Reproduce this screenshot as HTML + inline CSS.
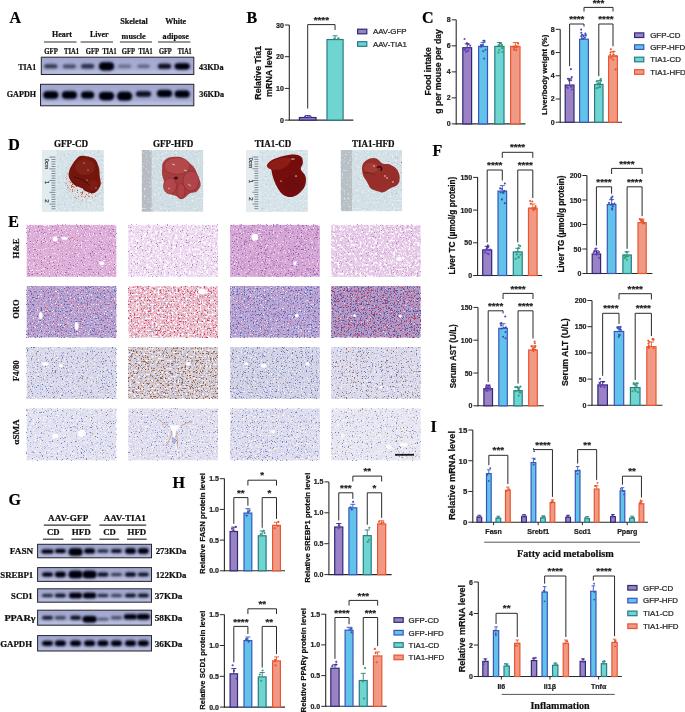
<!DOCTYPE html>
<html><head><meta charset="utf-8"><style>
html,body{margin:0;padding:0;background:#fff;overflow:hidden;}
svg{display:block;will-change:transform;}
</style></head><body>
<svg width="685" height="712" viewBox="0 0 685 712">
<defs><filter id="bb" x="-50%" y="-100%" width="200%" height="300%"><feGaussianBlur stdDeviation="0.85"/></filter>
<filter id="bb2" x="-50%" y="-100%" width="200%" height="300%"><feGaussianBlur stdDeviation="1.5"/></filter>
<filter id="lb" x="-20%" y="-20%" width="140%" height="140%"><feGaussianBlur stdDeviation="0.5"/></filter>
<filter id="sp0" x="0" y="0" width="1" height="1" color-interpolation-filters="sRGB"><feTurbulence type="fractalNoise" baseFrequency="0.5" numOctaves="2" seed="11"/><feColorMatrix type="matrix" values="0 0 0 0 0.941 0 0 0 0 0.965 0 0 0 0 0.973 3 0 0 0 -1.6"/></filter>
<filter id="sp1" x="0" y="0" width="1" height="1" color-interpolation-filters="sRGB"><feTurbulence type="fractalNoise" baseFrequency="0.5" numOctaves="2" seed="12"/><feColorMatrix type="matrix" values="0 0 0 0 0.722 0 0 0 0 0.784 0 0 0 0 0.816 3 0 0 0 -1.75"/></filter>
<radialGradient id="bm1g" cx="84" cy="182" r="22" gradientUnits="userSpaceOnUse"><stop offset="0.55" stop-color="#fff"/><stop offset="1" stop-color="#000"/></radialGradient><mask id="bm1"><rect x="40" y="150" width="66" height="62" fill="url(#bm1g)"/></mask>
<filter id="sp2" x="0" y="0" width="1" height="1" color-interpolation-filters="sRGB"><feTurbulence type="fractalNoise" baseFrequency="1.2" numOctaves="1" seed="21"/><feColorMatrix type="matrix" values="0 0 0 0 0.831 0 0 0 0 0.275 0 0 0 0 0.173 9 0 0 0 -5.0"/></filter>
<filter id="sp3" x="0" y="0" width="1" height="1" color-interpolation-filters="sRGB"><feTurbulence type="fractalNoise" baseFrequency="0.5" numOctaves="2" seed="31"/><feColorMatrix type="matrix" values="0 0 0 0 0.910 0 0 0 0 0.933 0 0 0 0 0.941 5 0 0 0 -3"/></filter>
<filter id="sp4" x="0" y="0" width="1" height="1" color-interpolation-filters="sRGB"><feTurbulence type="fractalNoise" baseFrequency="1.2" numOctaves="1" seed="22"/><feColorMatrix type="matrix" values="0 0 0 0 0.816 0 0 0 0 0.251 0 0 0 0 0.251 9 0 0 0 -6.4"/></filter>
<filter id="sp5" x="0" y="0" width="1" height="1" color-interpolation-filters="sRGB"><feTurbulence type="fractalNoise" baseFrequency="0.5" numOctaves="2" seed="41"/><feColorMatrix type="matrix" values="0 0 0 0 0.878 0 0 0 0 0.910 0 0 0 0 0.925 5 0 0 0 -3"/></filter>
<filter id="sp6" x="0" y="0" width="1" height="1" color-interpolation-filters="sRGB"><feTurbulence type="fractalNoise" baseFrequency="1.2" numOctaves="1" seed="23"/><feColorMatrix type="matrix" values="0 0 0 0 0.816 0 0 0 0 0.251 0 0 0 0 0.251 9 0 0 0 -6.2"/></filter>
<filter id="hf0" x="0" y="0" width="1" height="1" color-interpolation-filters="sRGB"><feTurbulence type="fractalNoise" baseFrequency="0.75" numOctaves="2" seed="1"/><feColorMatrix type="matrix" values="0 0 0 0 0.635 0 0 0 0 0.353 0 0 0 0 0.659 7 0 0 0 -4.35"/><feGaussianBlur stdDeviation="0.3"/></filter>
<filter id="hf1" x="0" y="0" width="1" height="1" color-interpolation-filters="sRGB"><feTurbulence type="fractalNoise" baseFrequency="0.75" numOctaves="2" seed="2"/><feColorMatrix type="matrix" values="0 0 0 0 0.973 0 0 0 0 0.925 0 0 0 0 0.965 7 0 0 0 -4.2"/><feGaussianBlur stdDeviation="0.3"/></filter>
<filter id="hf2" x="0" y="0" width="1" height="1" color-interpolation-filters="sRGB"><feTurbulence type="fractalNoise" baseFrequency="0.45" numOctaves="2" seed="3"/><feColorMatrix type="matrix" values="0 0 0 0 0.996 0 0 0 0 0.980 0 0 0 0 0.996 6 0 0 0 -2.9"/><feGaussianBlur stdDeviation="0.3"/></filter>
<filter id="hf3" x="0" y="0" width="1" height="1" color-interpolation-filters="sRGB"><feTurbulence type="fractalNoise" baseFrequency="0.8" numOctaves="2" seed="4"/><feColorMatrix type="matrix" values="0 0 0 0 0.706 0 0 0 0 0.486 0 0 0 0 0.769 7 0 0 0 -4.4"/><feGaussianBlur stdDeviation="0.3"/></filter>
<filter id="hf4" x="0" y="0" width="1" height="1" color-interpolation-filters="sRGB"><feTurbulence type="fractalNoise" baseFrequency="0.75" numOctaves="2" seed="5"/><feColorMatrix type="matrix" values="0 0 0 0 0.612 0 0 0 0 0.337 0 0 0 0 0.651 7 0 0 0 -4.25"/><feGaussianBlur stdDeviation="0.3"/></filter>
<filter id="hf5" x="0" y="0" width="1" height="1" color-interpolation-filters="sRGB"><feTurbulence type="fractalNoise" baseFrequency="0.75" numOctaves="2" seed="6"/><feColorMatrix type="matrix" values="0 0 0 0 0.965 0 0 0 0 0.910 0 0 0 0 0.957 7 0 0 0 -4.3"/><feGaussianBlur stdDeviation="0.3"/></filter>
<filter id="hf6" x="0" y="0" width="1" height="1" color-interpolation-filters="sRGB"><feTurbulence type="fractalNoise" baseFrequency="0.25" numOctaves="2" seed="7"/><feColorMatrix type="matrix" values="0 0 0 0 0.706 0 0 0 0 0.486 0 0 0 0 0.769 4 0 0 0 -2.4"/><feGaussianBlur stdDeviation="0.3"/></filter>
<filter id="hf7" x="0" y="0" width="1" height="1" color-interpolation-filters="sRGB"><feTurbulence type="fractalNoise" baseFrequency="0.45" numOctaves="2" seed="8"/><feColorMatrix type="matrix" values="0 0 0 0 0.996 0 0 0 0 0.980 0 0 0 0 0.996 6 0 0 0 -3.0"/><feGaussianBlur stdDeviation="0.3"/></filter>
<filter id="hf8" x="0" y="0" width="1" height="1" color-interpolation-filters="sRGB"><feTurbulence type="fractalNoise" baseFrequency="0.8" numOctaves="2" seed="9"/><feColorMatrix type="matrix" values="0 0 0 0 0.737 0 0 0 0 0.518 0 0 0 0 0.784 7 0 0 0 -4.4"/><feGaussianBlur stdDeviation="0.3"/></filter>
<filter id="hf9" x="0" y="0" width="1" height="1" color-interpolation-filters="sRGB"><feTurbulence type="fractalNoise" baseFrequency="0.7" numOctaves="2" seed="10"/><feColorMatrix type="matrix" values="0 0 0 0 0.314 0 0 0 0 0.408 0 0 0 0 0.737 7 0 0 0 -4.05"/><feGaussianBlur stdDeviation="0.3"/></filter>
<filter id="hf10" x="0" y="0" width="1" height="1" color-interpolation-filters="sRGB"><feTurbulence type="fractalNoise" baseFrequency="0.7" numOctaves="2" seed="11"/><feColorMatrix type="matrix" values="0 0 0 0 0.816 0 0 0 0 0.424 0 0 0 0 0.565 7 0 0 0 -4.2"/><feGaussianBlur stdDeviation="0.3"/></filter>
<filter id="hf11" x="0" y="0" width="1" height="1" color-interpolation-filters="sRGB"><feTurbulence type="fractalNoise" baseFrequency="0.7" numOctaves="2" seed="12"/><feColorMatrix type="matrix" values="0 0 0 0 0.957 0 0 0 0 0.941 0 0 0 0 0.973 7 0 0 0 -4.4"/><feGaussianBlur stdDeviation="0.3"/></filter>
<filter id="hf12" x="0" y="0" width="1" height="1" color-interpolation-filters="sRGB"><feTurbulence type="fractalNoise" baseFrequency="0.7" numOctaves="2" seed="13"/><feColorMatrix type="matrix" values="0 0 0 0 0.863 0 0 0 0 0.204 0 0 0 0 0.267 7 0 0 0 -4.0"/><feGaussianBlur stdDeviation="0.3"/></filter>
<filter id="hf13" x="0" y="0" width="1" height="1" color-interpolation-filters="sRGB"><feTurbulence type="fractalNoise" baseFrequency="0.7" numOctaves="2" seed="14"/><feColorMatrix type="matrix" values="0 0 0 0 0.486 0 0 0 0 0.565 0 0 0 0 0.816 7 0 0 0 -4.4"/><feGaussianBlur stdDeviation="0.3"/></filter>
<filter id="hf14" x="0" y="0" width="1" height="1" color-interpolation-filters="sRGB"><feTurbulence type="fractalNoise" baseFrequency="0.5" numOctaves="2" seed="15"/><feColorMatrix type="matrix" values="0 0 0 0 0.992 0 0 0 0 0.973 0 0 0 0 0.973 6 0 0 0 -2.9"/><feGaussianBlur stdDeviation="0.3"/></filter>
<filter id="hf15" x="0" y="0" width="1" height="1" color-interpolation-filters="sRGB"><feTurbulence type="fractalNoise" baseFrequency="0.7" numOctaves="2" seed="16"/><feColorMatrix type="matrix" values="0 0 0 0 0.298 0 0 0 0 0.392 0 0 0 0 0.729 7 0 0 0 -4.0"/><feGaussianBlur stdDeviation="0.3"/></filter>
<filter id="hf16" x="0" y="0" width="1" height="1" color-interpolation-filters="sRGB"><feTurbulence type="fractalNoise" baseFrequency="0.7" numOctaves="2" seed="17"/><feColorMatrix type="matrix" values="0 0 0 0 0.816 0 0 0 0 0.424 0 0 0 0 0.565 7 0 0 0 -4.3"/><feGaussianBlur stdDeviation="0.3"/></filter>
<filter id="hf17" x="0" y="0" width="1" height="1" color-interpolation-filters="sRGB"><feTurbulence type="fractalNoise" baseFrequency="0.7" numOctaves="2" seed="18"/><feColorMatrix type="matrix" values="0 0 0 0 0.957 0 0 0 0 0.941 0 0 0 0 0.973 7 0 0 0 -4.45"/><feGaussianBlur stdDeviation="0.3"/></filter>
<filter id="hf18" x="0" y="0" width="1" height="1" color-interpolation-filters="sRGB"><feTurbulence type="fractalNoise" baseFrequency="0.7" numOctaves="2" seed="19"/><feColorMatrix type="matrix" values="0 0 0 0 0.831 0 0 0 0 0.173 0 0 0 0 0.235 7 0 0 0 -4.0"/><feGaussianBlur stdDeviation="0.3"/></filter>
<filter id="hf19" x="0" y="0" width="1" height="1" color-interpolation-filters="sRGB"><feTurbulence type="fractalNoise" baseFrequency="0.7" numOctaves="2" seed="20"/><feColorMatrix type="matrix" values="0 0 0 0 0.282 0 0 0 0 0.345 0 0 0 0 0.706 7 0 0 0 -3.9"/><feGaussianBlur stdDeviation="0.3"/></filter>
<filter id="hf20" x="0" y="0" width="1" height="1" color-interpolation-filters="sRGB"><feTurbulence type="fractalNoise" baseFrequency="0.7" numOctaves="2" seed="21"/><feColorMatrix type="matrix" values="0 0 0 0 0.957 0 0 0 0 0.933 0 0 0 0 0.957 7 0 0 0 -4.7"/><feGaussianBlur stdDeviation="0.3"/></filter>
<filter id="hf21" x="0" y="0" width="1" height="1" color-interpolation-filters="sRGB"><feTurbulence type="fractalNoise" baseFrequency="0.8" numOctaves="2" seed="22"/><feColorMatrix type="matrix" values="0 0 0 0 0.392 0 0 0 0 0.471 0 0 0 0 0.753 7 0 0 0 -4.3"/><feGaussianBlur stdDeviation="0.3"/></filter>
<filter id="hf22" x="0" y="0" width="1" height="1" color-interpolation-filters="sRGB"><feTurbulence type="fractalNoise" baseFrequency="0.8" numOctaves="2" seed="23"/><feColorMatrix type="matrix" values="0 0 0 0 0.627 0 0 0 0 0.392 0 0 0 0 0.188 7 0 0 0 -4.85"/><feGaussianBlur stdDeviation="0.3"/></filter>
<filter id="hf23" x="0" y="0" width="1" height="1" color-interpolation-filters="sRGB"><feTurbulence type="fractalNoise" baseFrequency="0.7" numOctaves="2" seed="24"/><feColorMatrix type="matrix" values="0 0 0 0 0.957 0 0 0 0 0.957 0 0 0 0 0.980 6 0 0 0 -3.5"/><feGaussianBlur stdDeviation="0.3"/></filter>
<filter id="hf24" x="0" y="0" width="1" height="1" color-interpolation-filters="sRGB"><feTurbulence type="fractalNoise" baseFrequency="0.8" numOctaves="2" seed="25"/><feColorMatrix type="matrix" values="0 0 0 0 0.392 0 0 0 0 0.471 0 0 0 0 0.753 7 0 0 0 -4.4"/><feGaussianBlur stdDeviation="0.3"/></filter>
<filter id="hf25" x="0" y="0" width="1" height="1" color-interpolation-filters="sRGB"><feTurbulence type="fractalNoise" baseFrequency="0.6" numOctaves="2" seed="26"/><feColorMatrix type="matrix" values="0 0 0 0 0.604 0 0 0 0 0.353 0 0 0 0 0.149 7 0 0 0 -4.0"/><feGaussianBlur stdDeviation="0.3"/></filter>
<filter id="hf26" x="0" y="0" width="1" height="1" color-interpolation-filters="sRGB"><feTurbulence type="fractalNoise" baseFrequency="0.5" numOctaves="2" seed="27"/><feColorMatrix type="matrix" values="0 0 0 0 0.973 0 0 0 0 0.965 0 0 0 0 0.973 6 0 0 0 -3.3"/><feGaussianBlur stdDeviation="0.3"/></filter>
<filter id="hf27" x="0" y="0" width="1" height="1" color-interpolation-filters="sRGB"><feTurbulence type="fractalNoise" baseFrequency="0.8" numOctaves="2" seed="28"/><feColorMatrix type="matrix" values="0 0 0 0 0.392 0 0 0 0 0.471 0 0 0 0 0.753 7 0 0 0 -4.2"/><feGaussianBlur stdDeviation="0.3"/></filter>
<filter id="hf28" x="0" y="0" width="1" height="1" color-interpolation-filters="sRGB"><feTurbulence type="fractalNoise" baseFrequency="0.8" numOctaves="2" seed="29"/><feColorMatrix type="matrix" values="0 0 0 0 0.627 0 0 0 0 0.392 0 0 0 0 0.188 7 0 0 0 -4.85"/><feGaussianBlur stdDeviation="0.3"/></filter>
<filter id="hf29" x="0" y="0" width="1" height="1" color-interpolation-filters="sRGB"><feTurbulence type="fractalNoise" baseFrequency="0.7" numOctaves="2" seed="30"/><feColorMatrix type="matrix" values="0 0 0 0 0.957 0 0 0 0 0.957 0 0 0 0 0.980 6 0 0 0 -3.5"/><feGaussianBlur stdDeviation="0.3"/></filter>
<filter id="hf30" x="0" y="0" width="1" height="1" color-interpolation-filters="sRGB"><feTurbulence type="fractalNoise" baseFrequency="0.8" numOctaves="2" seed="31"/><feColorMatrix type="matrix" values="0 0 0 0 0.392 0 0 0 0 0.471 0 0 0 0 0.753 7 0 0 0 -4.3"/><feGaussianBlur stdDeviation="0.3"/></filter>
<filter id="hf31" x="0" y="0" width="1" height="1" color-interpolation-filters="sRGB"><feTurbulence type="fractalNoise" baseFrequency="0.8" numOctaves="2" seed="32"/><feColorMatrix type="matrix" values="0 0 0 0 0.627 0 0 0 0 0.392 0 0 0 0 0.188 7 0 0 0 -4.5"/><feGaussianBlur stdDeviation="0.3"/></filter>
<filter id="hf32" x="0" y="0" width="1" height="1" color-interpolation-filters="sRGB"><feTurbulence type="fractalNoise" baseFrequency="0.7" numOctaves="2" seed="33"/><feColorMatrix type="matrix" values="0 0 0 0 0.957 0 0 0 0 0.957 0 0 0 0 0.980 6 0 0 0 -3.5"/><feGaussianBlur stdDeviation="0.3"/></filter>
<filter id="hf33" x="0" y="0" width="1" height="1" color-interpolation-filters="sRGB"><feTurbulence type="fractalNoise" baseFrequency="0.8" numOctaves="2" seed="34"/><feColorMatrix type="matrix" values="0 0 0 0 0.439 0 0 0 0 0.518 0 0 0 0 0.769 7 0 0 0 -4.4"/><feGaussianBlur stdDeviation="0.3"/></filter>
<filter id="hf34" x="0" y="0" width="1" height="1" color-interpolation-filters="sRGB"><feTurbulence type="fractalNoise" baseFrequency="0.8" numOctaves="2" seed="35"/><feColorMatrix type="matrix" values="0 0 0 0 0.659 0 0 0 0 0.439 0 0 0 0 0.251 7 0 0 0 -4.9"/><feGaussianBlur stdDeviation="0.3"/></filter>
<filter id="hf35" x="0" y="0" width="1" height="1" color-interpolation-filters="sRGB"><feTurbulence type="fractalNoise" baseFrequency="0.6" numOctaves="2" seed="36"/><feColorMatrix type="matrix" values="0 0 0 0 0.973 0 0 0 0 0.973 0 0 0 0 0.988 6 0 0 0 -3.4"/><feGaussianBlur stdDeviation="0.3"/></filter>
<filter id="hf36" x="0" y="0" width="1" height="1" color-interpolation-filters="sRGB"><feTurbulence type="fractalNoise" baseFrequency="0.8" numOctaves="2" seed="37"/><feColorMatrix type="matrix" values="0 0 0 0 0.439 0 0 0 0 0.518 0 0 0 0 0.769 7 0 0 0 -4.4"/><feGaussianBlur stdDeviation="0.3"/></filter>
<filter id="hf37" x="0" y="0" width="1" height="1" color-interpolation-filters="sRGB"><feTurbulence type="fractalNoise" baseFrequency="0.8" numOctaves="2" seed="38"/><feColorMatrix type="matrix" values="0 0 0 0 0.659 0 0 0 0 0.439 0 0 0 0 0.251 7 0 0 0 -5.1"/><feGaussianBlur stdDeviation="0.3"/></filter>
<filter id="hf38" x="0" y="0" width="1" height="1" color-interpolation-filters="sRGB"><feTurbulence type="fractalNoise" baseFrequency="0.6" numOctaves="2" seed="39"/><feColorMatrix type="matrix" values="0 0 0 0 0.973 0 0 0 0 0.973 0 0 0 0 0.988 6 0 0 0 -3.4"/><feGaussianBlur stdDeviation="0.3"/></filter>
<filter id="hf39" x="0" y="0" width="1" height="1" color-interpolation-filters="sRGB"><feTurbulence type="fractalNoise" baseFrequency="0.8" numOctaves="2" seed="40"/><feColorMatrix type="matrix" values="0 0 0 0 0.439 0 0 0 0 0.518 0 0 0 0 0.769 7 0 0 0 -4.3"/><feGaussianBlur stdDeviation="0.3"/></filter>
<filter id="hf40" x="0" y="0" width="1" height="1" color-interpolation-filters="sRGB"><feTurbulence type="fractalNoise" baseFrequency="0.8" numOctaves="2" seed="41"/><feColorMatrix type="matrix" values="0 0 0 0 0.659 0 0 0 0 0.439 0 0 0 0 0.251 7 0 0 0 -4.9"/><feGaussianBlur stdDeviation="0.3"/></filter>
<filter id="hf41" x="0" y="0" width="1" height="1" color-interpolation-filters="sRGB"><feTurbulence type="fractalNoise" baseFrequency="0.6" numOctaves="2" seed="42"/><feColorMatrix type="matrix" values="0 0 0 0 0.973 0 0 0 0 0.973 0 0 0 0 0.988 6 0 0 0 -3.4"/><feGaussianBlur stdDeviation="0.3"/></filter>
<filter id="hf42" x="0" y="0" width="1" height="1" color-interpolation-filters="sRGB"><feTurbulence type="fractalNoise" baseFrequency="0.8" numOctaves="2" seed="43"/><feColorMatrix type="matrix" values="0 0 0 0 0.439 0 0 0 0 0.518 0 0 0 0 0.769 7 0 0 0 -4.5"/><feGaussianBlur stdDeviation="0.3"/></filter>
<filter id="hf43" x="0" y="0" width="1" height="1" color-interpolation-filters="sRGB"><feTurbulence type="fractalNoise" baseFrequency="0.8" numOctaves="2" seed="44"/><feColorMatrix type="matrix" values="0 0 0 0 0.659 0 0 0 0 0.439 0 0 0 0 0.251 7 0 0 0 -4.8"/><feGaussianBlur stdDeviation="0.3"/></filter>
<filter id="hf44" x="0" y="0" width="1" height="1" color-interpolation-filters="sRGB"><feTurbulence type="fractalNoise" baseFrequency="0.6" numOctaves="2" seed="45"/><feColorMatrix type="matrix" values="0 0 0 0 0.973 0 0 0 0 0.973 0 0 0 0 0.988 6 0 0 0 -3.4"/><feGaussianBlur stdDeviation="0.3"/></filter></defs>
<rect width="685" height="712" fill="#fff"/>
<text x="9.5" y="23" font-family='"Liberation Serif", serif' font-size="16" font-weight="bold" text-anchor="start" fill="#000" stroke="#000" stroke-width="0.22">A</text>
<text x="246.5" y="23" font-family='"Liberation Serif", serif' font-size="16" font-weight="bold" text-anchor="start" fill="#000" stroke="#000" stroke-width="0.22">B</text>
<text x="422" y="23" font-family='"Liberation Serif", serif' font-size="16" font-weight="bold" text-anchor="start" fill="#000" stroke="#000" stroke-width="0.22">C</text>
<text x="8.3" y="150" font-family='"Liberation Serif", serif' font-size="16" font-weight="bold" text-anchor="start" fill="#000" stroke="#000" stroke-width="0.22">D</text>
<text x="8.3" y="227" font-family='"Liberation Serif", serif' font-size="16" font-weight="bold" text-anchor="start" fill="#000" stroke="#000" stroke-width="0.22">E</text>
<text x="432.5" y="155.5" font-family='"Liberation Serif", serif' font-size="16" font-weight="bold" text-anchor="start" fill="#000" stroke="#000" stroke-width="0.22">F</text>
<text x="8.5" y="504.5" font-family='"Liberation Serif", serif' font-size="16" font-weight="bold" text-anchor="start" fill="#000" stroke="#000" stroke-width="0.22">G</text>
<text x="172.5" y="488" font-family='"Liberation Serif", serif' font-size="16" font-weight="bold" text-anchor="start" fill="#000" stroke="#000" stroke-width="0.22">H</text>
<text x="430.5" y="432" font-family='"Liberation Serif", serif' font-size="16" font-weight="bold" text-anchor="start" fill="#000" stroke="#000" stroke-width="0.22">I</text>
<line x1="289.3" y1="25" x2="289.3" y2="120.6" stroke="#2a2a2a" stroke-width="1.1"/>
<line x1="288.8" y1="120.1" x2="353.4" y2="120.1" stroke="#2a2a2a" stroke-width="1.1"/>
<line x1="284.8" y1="120.1" x2="289.3" y2="120.1" stroke="#2a2a2a" stroke-width="1"/>
<text x="283.8" y="122.6" font-family='"Liberation Sans", sans-serif' font-size="7.0" font-weight="bold" text-anchor="end" fill="#222" stroke="#222" stroke-width="0.22">0</text>
<line x1="284.8" y1="88.4" x2="289.3" y2="88.4" stroke="#2a2a2a" stroke-width="1"/>
<text x="283.8" y="90.9" font-family='"Liberation Sans", sans-serif' font-size="7.0" font-weight="bold" text-anchor="end" fill="#222" stroke="#222" stroke-width="0.22">10</text>
<line x1="284.8" y1="56.7" x2="289.3" y2="56.7" stroke="#2a2a2a" stroke-width="1"/>
<text x="283.8" y="59.2" font-family='"Liberation Sans", sans-serif' font-size="7.0" font-weight="bold" text-anchor="end" fill="#222" stroke="#222" stroke-width="0.22">20</text>
<line x1="284.8" y1="25" x2="289.3" y2="25" stroke="#2a2a2a" stroke-width="1"/>
<text x="283.8" y="27.5" font-family='"Liberation Sans", sans-serif' font-size="7.0" font-weight="bold" text-anchor="end" fill="#222" stroke="#222" stroke-width="0.22">30</text>
<rect x="299.4" y="117.53" width="16.6" height="2.57" fill="#9b82c6" stroke="#2d2a72" stroke-width="1.2"/>
<circle cx="310.52" cy="116.56" r="1.05" fill="#6a3fc0"/>
<circle cx="305.08" cy="116.52" r="1.05" fill="#6a3fc0"/>
<circle cx="309.32" cy="117.24" r="1.05" fill="#6a3fc0"/>
<line x1="307.7" y1="115.56" x2="307.7" y2="116.93" stroke="#2d2a72" stroke-width="0.9"/>
<line x1="305.2" y1="115.56" x2="310.2" y2="115.56" stroke="#2d2a72" stroke-width="0.9"/>
<rect x="327" y="39.55" width="16.1" height="80.55" fill="#6fd5d1" stroke="#2a7b86" stroke-width="1.2"/>
<circle cx="338.05" cy="38.84" r="1.05" fill="#35a070"/>
<circle cx="338.54" cy="38.27" r="1.05" fill="#35a070"/>
<circle cx="334.35" cy="38.49" r="1.05" fill="#35a070"/>
<line x1="335.05" y1="35.75" x2="335.05" y2="38.95" stroke="#2a7b86" stroke-width="0.9"/>
<line x1="332.55" y1="35.75" x2="337.55" y2="35.75" stroke="#2a7b86" stroke-width="0.9"/>
<polyline points="307.7,108.6 307.7,24.6 335.05,24.6 335.05,30" fill="none" stroke="#2a2a2a" stroke-width="1"/>
<text x="321.38" y="22.7" font-family='"Liberation Sans", sans-serif' font-size="9.8" font-weight="bold" text-anchor="middle" fill="#222" stroke="#222" stroke-width="0.22">****</text>
<text x="261" y="99.7" font-family='"Liberation Sans", sans-serif' font-size="9.3" font-weight="bold" text-anchor="start" fill="#111" stroke="#111" stroke-width="0.22" transform="rotate(-90 261 99.7)" textLength="53.8" lengthAdjust="spacingAndGlyphs">Relative Tia1</text>
<text x="271.9" y="96.9" font-family='"Liberation Sans", sans-serif' font-size="9.3" font-weight="bold" text-anchor="start" fill="#111" stroke="#111" stroke-width="0.22" transform="rotate(-90 271.9 96.9)" textLength="49" lengthAdjust="spacingAndGlyphs">mRNA level</text>
<rect x="357.6" y="29.2" width="9.2" height="4.6" fill="#9b82c6" stroke="#2d2a72" stroke-width="1.2"/>
<text x="372.9" y="34.3" font-family='"Liberation Sans", sans-serif' font-size="7.9" font-weight="normal" text-anchor="start" fill="#222" stroke="#222" stroke-width="0.22">AAV-GFP</text>
<rect x="357.6" y="41.7" width="9.2" height="4.6" fill="#6fd5d1" stroke="#2a7b86" stroke-width="1.2"/>
<text x="372.9" y="46.8" font-family='"Liberation Sans", sans-serif' font-size="7.9" font-weight="normal" text-anchor="start" fill="#222" stroke="#222" stroke-width="0.22">AAV-TIA1</text>
<line x1="456.2" y1="19.8" x2="456.2" y2="124.4" stroke="#2a2a2a" stroke-width="1.1"/>
<line x1="455.7" y1="123.9" x2="525.4" y2="123.9" stroke="#2a2a2a" stroke-width="1.1"/>
<line x1="451.7" y1="123.9" x2="456.2" y2="123.9" stroke="#2a2a2a" stroke-width="1"/>
<text x="450.7" y="126.4" font-family='"Liberation Sans", sans-serif' font-size="7.0" font-weight="bold" text-anchor="end" fill="#222" stroke="#222" stroke-width="0.22">0</text>
<line x1="451.7" y1="97.88" x2="456.2" y2="97.88" stroke="#2a2a2a" stroke-width="1"/>
<text x="450.7" y="100.38" font-family='"Liberation Sans", sans-serif' font-size="7.0" font-weight="bold" text-anchor="end" fill="#222" stroke="#222" stroke-width="0.22">2</text>
<line x1="451.7" y1="71.86" x2="456.2" y2="71.86" stroke="#2a2a2a" stroke-width="1"/>
<text x="450.7" y="74.36" font-family='"Liberation Sans", sans-serif' font-size="7.0" font-weight="bold" text-anchor="end" fill="#222" stroke="#222" stroke-width="0.22">4</text>
<line x1="451.7" y1="45.84" x2="456.2" y2="45.84" stroke="#2a2a2a" stroke-width="1"/>
<text x="450.7" y="48.34" font-family='"Liberation Sans", sans-serif' font-size="7.0" font-weight="bold" text-anchor="end" fill="#222" stroke="#222" stroke-width="0.22">6</text>
<line x1="451.7" y1="19.82" x2="456.2" y2="19.82" stroke="#2a2a2a" stroke-width="1"/>
<text x="450.7" y="22.32" font-family='"Liberation Sans", sans-serif' font-size="7.0" font-weight="bold" text-anchor="end" fill="#222" stroke="#222" stroke-width="0.22">8</text>
<rect x="462.8" y="47.74" width="8.8" height="76.16" fill="#9b82c6" stroke="#2d2a72" stroke-width="1.2"/>
<circle cx="464.54" cy="38.93" r="1.05" fill="#6a3fc0"/>
<circle cx="464.71" cy="49.47" r="1.05" fill="#6a3fc0"/>
<circle cx="468.22" cy="44.21" r="1.05" fill="#6a3fc0"/>
<circle cx="466.05" cy="52.07" r="1.05" fill="#6a3fc0"/>
<circle cx="467.69" cy="50.92" r="1.05" fill="#6a3fc0"/>
<circle cx="465.15" cy="50.11" r="1.05" fill="#6a3fc0"/>
<circle cx="468.54" cy="50.33" r="1.05" fill="#6a3fc0"/>
<circle cx="470.17" cy="45.66" r="1.05" fill="#6a3fc0"/>
<circle cx="466.87" cy="42.96" r="1.05" fill="#6a3fc0"/>
<circle cx="465.81" cy="48.52" r="1.05" fill="#6a3fc0"/>
<line x1="467.2" y1="43.89" x2="467.2" y2="47.14" stroke="#2d2a72" stroke-width="0.9"/>
<line x1="464.7" y1="43.89" x2="469.7" y2="43.89" stroke="#2d2a72" stroke-width="0.9"/>
<rect x="478.6" y="46.44" width="8.9" height="77.46" fill="#62c3ea" stroke="#3b55bb" stroke-width="1.2"/>
<circle cx="482.84" cy="45.03" r="1.05" fill="#3a4fb6"/>
<circle cx="481.95" cy="45.65" r="1.05" fill="#3a4fb6"/>
<circle cx="483.21" cy="51.24" r="1.05" fill="#3a4fb6"/>
<circle cx="483.42" cy="40.77" r="1.05" fill="#3a4fb6"/>
<circle cx="481.99" cy="45.77" r="1.05" fill="#3a4fb6"/>
<circle cx="480.85" cy="45.07" r="1.05" fill="#3a4fb6"/>
<circle cx="484.11" cy="58.61" r="1.05" fill="#3a4fb6"/>
<circle cx="481.12" cy="46.66" r="1.05" fill="#3a4fb6"/>
<circle cx="484.47" cy="40.92" r="1.05" fill="#3a4fb6"/>
<circle cx="485.51" cy="49.73" r="1.05" fill="#3a4fb6"/>
<line x1="483.05" y1="42.59" x2="483.05" y2="45.84" stroke="#3b55bb" stroke-width="0.9"/>
<line x1="480.55" y1="42.59" x2="485.55" y2="42.59" stroke="#3b55bb" stroke-width="0.9"/>
<rect x="494.8" y="46.44" width="9.2" height="77.46" fill="#6fd5d1" stroke="#2a7b86" stroke-width="1.2"/>
<circle cx="498.49" cy="45.34" r="1.05" fill="#35a070"/>
<circle cx="502.4" cy="52.02" r="1.05" fill="#35a070"/>
<circle cx="500.98" cy="43.82" r="1.05" fill="#35a070"/>
<circle cx="500.74" cy="46.33" r="1.05" fill="#35a070"/>
<circle cx="499.34" cy="50.03" r="1.05" fill="#35a070"/>
<circle cx="502.05" cy="44.8" r="1.05" fill="#35a070"/>
<circle cx="498.49" cy="52.47" r="1.05" fill="#35a070"/>
<circle cx="501.79" cy="45.88" r="1.05" fill="#35a070"/>
<circle cx="499.82" cy="42.68" r="1.05" fill="#35a070"/>
<circle cx="502.02" cy="48.14" r="1.05" fill="#35a070"/>
<line x1="499.4" y1="42.59" x2="499.4" y2="45.84" stroke="#2a7b86" stroke-width="0.9"/>
<line x1="496.9" y1="42.59" x2="501.9" y2="42.59" stroke="#2a7b86" stroke-width="0.9"/>
<rect x="510.6" y="46.44" width="9.4" height="77.46" fill="#f09a86" stroke="#ea5530" stroke-width="1.2"/>
<circle cx="513.53" cy="46.51" r="1.05" fill="#e8552e"/>
<circle cx="514.18" cy="49.84" r="1.05" fill="#e8552e"/>
<circle cx="517.89" cy="46.5" r="1.05" fill="#e8552e"/>
<circle cx="513.83" cy="47.85" r="1.05" fill="#e8552e"/>
<circle cx="518.21" cy="43.27" r="1.05" fill="#e8552e"/>
<circle cx="516.61" cy="47.44" r="1.05" fill="#e8552e"/>
<circle cx="516.26" cy="50.08" r="1.05" fill="#e8552e"/>
<circle cx="515.86" cy="45.95" r="1.05" fill="#e8552e"/>
<circle cx="515.38" cy="46.75" r="1.05" fill="#e8552e"/>
<circle cx="518.06" cy="43.62" r="1.05" fill="#e8552e"/>
<line x1="515.3" y1="42.59" x2="515.3" y2="45.84" stroke="#ea5530" stroke-width="0.9"/>
<line x1="512.8" y1="42.59" x2="517.8" y2="42.59" stroke="#ea5530" stroke-width="0.9"/>
<text x="430.9" y="95.6" font-family='"Liberation Sans", sans-serif' font-size="8.7" font-weight="bold" text-anchor="start" fill="#111" stroke="#111" stroke-width="0.22" transform="rotate(-90 430.9 95.6)" textLength="48.3" lengthAdjust="spacingAndGlyphs">Food intake</text>
<text x="441.3" y="113.8" font-family='"Liberation Sans", sans-serif' font-size="8.8" font-weight="bold" text-anchor="start" fill="#111" stroke="#111" stroke-width="0.22" transform="rotate(-90 441.3 113.8)" textLength="84.6" lengthAdjust="spacingAndGlyphs">g per mouse per day</text>
<line x1="560.2" y1="29.3" x2="560.2" y2="122.7" stroke="#2a2a2a" stroke-width="1.1"/>
<line x1="559.7" y1="122.2" x2="622" y2="122.2" stroke="#2a2a2a" stroke-width="1.1"/>
<line x1="555.7" y1="122.2" x2="560.2" y2="122.2" stroke="#2a2a2a" stroke-width="1"/>
<text x="554.7" y="124.7" font-family='"Liberation Sans", sans-serif' font-size="7.0" font-weight="bold" text-anchor="end" fill="#222" stroke="#222" stroke-width="0.22">0</text>
<line x1="555.7" y1="98.98" x2="560.2" y2="98.98" stroke="#2a2a2a" stroke-width="1"/>
<text x="554.7" y="101.48" font-family='"Liberation Sans", sans-serif' font-size="7.0" font-weight="bold" text-anchor="end" fill="#222" stroke="#222" stroke-width="0.22">2</text>
<line x1="555.7" y1="75.76" x2="560.2" y2="75.76" stroke="#2a2a2a" stroke-width="1"/>
<text x="554.7" y="78.26" font-family='"Liberation Sans", sans-serif' font-size="7.0" font-weight="bold" text-anchor="end" fill="#222" stroke="#222" stroke-width="0.22">4</text>
<line x1="555.7" y1="52.54" x2="560.2" y2="52.54" stroke="#2a2a2a" stroke-width="1"/>
<text x="554.7" y="55.04" font-family='"Liberation Sans", sans-serif' font-size="7.0" font-weight="bold" text-anchor="end" fill="#222" stroke="#222" stroke-width="0.22">6</text>
<line x1="555.7" y1="29.32" x2="560.2" y2="29.32" stroke="#2a2a2a" stroke-width="1"/>
<text x="554.7" y="31.82" font-family='"Liberation Sans", sans-serif' font-size="7.0" font-weight="bold" text-anchor="end" fill="#222" stroke="#222" stroke-width="0.22">8</text>
<rect x="565.2" y="85.07" width="8.8" height="37.13" fill="#9b82c6" stroke="#2d2a72" stroke-width="1.2"/>
<circle cx="571.52" cy="86.64" r="1.05" fill="#6a3fc0"/>
<circle cx="570.96" cy="86.59" r="1.05" fill="#6a3fc0"/>
<circle cx="571.07" cy="80.29" r="1.05" fill="#6a3fc0"/>
<circle cx="566.95" cy="87.21" r="1.05" fill="#6a3fc0"/>
<circle cx="567.96" cy="87.97" r="1.05" fill="#6a3fc0"/>
<circle cx="571.85" cy="89.48" r="1.05" fill="#6a3fc0"/>
<circle cx="571.72" cy="77.15" r="1.05" fill="#6a3fc0"/>
<circle cx="568.07" cy="78.7" r="1.05" fill="#6a3fc0"/>
<circle cx="569.14" cy="80.58" r="1.05" fill="#6a3fc0"/>
<circle cx="570.9" cy="69.15" r="1.05" fill="#6a3fc0"/>
<line x1="569.6" y1="78.8" x2="569.6" y2="84.47" stroke="#2d2a72" stroke-width="0.9"/>
<line x1="567.1" y1="78.8" x2="572.1" y2="78.8" stroke="#2d2a72" stroke-width="0.9"/>
<rect x="579.6" y="39.21" width="8.8" height="82.99" fill="#62c3ea" stroke="#3b55bb" stroke-width="1.2"/>
<circle cx="582.03" cy="34.72" r="1.05" fill="#3a4fb6"/>
<circle cx="585.04" cy="37.82" r="1.05" fill="#3a4fb6"/>
<circle cx="581.15" cy="29.59" r="1.05" fill="#3a4fb6"/>
<circle cx="585.38" cy="33.44" r="1.05" fill="#3a4fb6"/>
<circle cx="585.88" cy="35.42" r="1.05" fill="#3a4fb6"/>
<circle cx="581.94" cy="38.18" r="1.05" fill="#3a4fb6"/>
<circle cx="583.31" cy="36.02" r="1.05" fill="#3a4fb6"/>
<circle cx="581.26" cy="32.75" r="1.05" fill="#3a4fb6"/>
<circle cx="581.22" cy="36.22" r="1.05" fill="#3a4fb6"/>
<circle cx="583.07" cy="38.76" r="1.05" fill="#3a4fb6"/>
<line x1="584" y1="34.97" x2="584" y2="38.61" stroke="#3b55bb" stroke-width="0.9"/>
<line x1="581.5" y1="34.97" x2="586.5" y2="34.97" stroke="#3b55bb" stroke-width="0.9"/>
<rect x="594.6" y="84.49" width="8.4" height="37.71" fill="#6fd5d1" stroke="#2a7b86" stroke-width="1.2"/>
<circle cx="596.57" cy="88.18" r="1.05" fill="#35a070"/>
<circle cx="597.86" cy="87.69" r="1.05" fill="#35a070"/>
<circle cx="600.33" cy="80.16" r="1.05" fill="#35a070"/>
<circle cx="600.18" cy="83.16" r="1.05" fill="#35a070"/>
<circle cx="600.89" cy="79.11" r="1.05" fill="#35a070"/>
<circle cx="599.98" cy="87.26" r="1.05" fill="#35a070"/>
<circle cx="599.73" cy="86.34" r="1.05" fill="#35a070"/>
<circle cx="597.74" cy="83.46" r="1.05" fill="#35a070"/>
<circle cx="600.96" cy="80.84" r="1.05" fill="#35a070"/>
<circle cx="596.65" cy="81.62" r="1.05" fill="#35a070"/>
<line x1="598.8" y1="80.66" x2="598.8" y2="83.89" stroke="#2a7b86" stroke-width="0.9"/>
<line x1="596.3" y1="80.66" x2="601.3" y2="80.66" stroke="#2a7b86" stroke-width="0.9"/>
<rect x="608.6" y="56.04" width="8.8" height="66.16" fill="#f09a86" stroke="#ea5530" stroke-width="1.2"/>
<circle cx="613.09" cy="59.64" r="1.05" fill="#e8552e"/>
<circle cx="610.86" cy="57.92" r="1.05" fill="#e8552e"/>
<circle cx="613.64" cy="51.79" r="1.05" fill="#e8552e"/>
<circle cx="612.52" cy="56.39" r="1.05" fill="#e8552e"/>
<circle cx="610.84" cy="49.25" r="1.05" fill="#e8552e"/>
<circle cx="610.34" cy="54.74" r="1.05" fill="#e8552e"/>
<circle cx="610.58" cy="52.62" r="1.05" fill="#e8552e"/>
<circle cx="613.81" cy="54.84" r="1.05" fill="#e8552e"/>
<circle cx="615.6" cy="69.39" r="1.05" fill="#e8552e"/>
<circle cx="615.97" cy="56.17" r="1.05" fill="#e8552e"/>
<line x1="613" y1="51.4" x2="613" y2="55.44" stroke="#ea5530" stroke-width="0.9"/>
<line x1="610.5" y1="51.4" x2="615.5" y2="51.4" stroke="#ea5530" stroke-width="0.9"/>
<polyline points="569.6,66.15 569.6,24 584,24 584,26.59" fill="none" stroke="#2a2a2a" stroke-width="1"/>
<text x="576.8" y="22.1" font-family='"Liberation Sans", sans-serif' font-size="9.8" font-weight="bold" text-anchor="middle" fill="#222" stroke="#222" stroke-width="0.22">****</text>
<polyline points="598.8,76.11 598.8,24 613,24 613,46.25" fill="none" stroke="#2a2a2a" stroke-width="1"/>
<text x="605.9" y="22.1" font-family='"Liberation Sans", sans-serif' font-size="9.8" font-weight="bold" text-anchor="middle" fill="#222" stroke="#222" stroke-width="0.22">****</text>
<polyline points="584,11.5 584,7.4 613,7.4 613,11.5" fill="none" stroke="#2a2a2a" stroke-width="1"/>
<text x="598.5" y="5.5" font-family='"Liberation Sans", sans-serif' font-size="9.8" font-weight="bold" text-anchor="middle" fill="#222" stroke="#222" stroke-width="0.22">***</text>
<text x="546.6" y="115" font-family='"Liberation Sans", sans-serif' font-size="7.9" font-weight="bold" text-anchor="start" fill="#111" stroke="#111" stroke-width="0.22" transform="rotate(-90 546.6 115)" textLength="80.3" lengthAdjust="spacingAndGlyphs">Liver/body weight (%)</text>
<rect x="634.6" y="32.9" width="9.2" height="4.6" fill="#9b82c6" stroke="#2d2a72" stroke-width="1.2"/>
<text x="650.2" y="38" font-family='"Liberation Sans", sans-serif' font-size="7.9" font-weight="normal" text-anchor="start" fill="#222" stroke="#222" stroke-width="0.22">GFP-CD</text>
<rect x="634.6" y="44.8" width="9.2" height="4.6" fill="#62c3ea" stroke="#3b55bb" stroke-width="1.2"/>
<text x="650.2" y="49.9" font-family='"Liberation Sans", sans-serif' font-size="7.9" font-weight="normal" text-anchor="start" fill="#222" stroke="#222" stroke-width="0.22">GFP-HFD</text>
<rect x="634.6" y="57.2" width="9.2" height="4.6" fill="#6fd5d1" stroke="#2a7b86" stroke-width="1.2"/>
<text x="650.2" y="62.3" font-family='"Liberation Sans", sans-serif' font-size="7.9" font-weight="normal" text-anchor="start" fill="#222" stroke="#222" stroke-width="0.22">TIA1-CD</text>
<rect x="634.6" y="69.7" width="9.2" height="4.6" fill="#f09a86" stroke="#ea5530" stroke-width="1.2"/>
<text x="650.2" y="74.8" font-family='"Liberation Sans", sans-serif' font-size="7.9" font-weight="normal" text-anchor="start" fill="#222" stroke="#222" stroke-width="0.22">TIA1-HFD</text>
<line x1="477.6" y1="177.1" x2="477.6" y2="276" stroke="#2a2a2a" stroke-width="1.1"/>
<line x1="477.1" y1="275.5" x2="542.2" y2="275.5" stroke="#2a2a2a" stroke-width="1.1"/>
<line x1="473.1" y1="275.5" x2="477.6" y2="275.5" stroke="#2a2a2a" stroke-width="1"/>
<text x="472.1" y="278" font-family='"Liberation Sans", sans-serif' font-size="7.0" font-weight="bold" text-anchor="end" fill="#222" stroke="#222" stroke-width="0.22">0</text>
<line x1="473.1" y1="242.8" x2="477.6" y2="242.8" stroke="#2a2a2a" stroke-width="1"/>
<text x="472.1" y="245.3" font-family='"Liberation Sans", sans-serif' font-size="7.0" font-weight="bold" text-anchor="end" fill="#222" stroke="#222" stroke-width="0.22">50</text>
<line x1="473.1" y1="210.1" x2="477.6" y2="210.1" stroke="#2a2a2a" stroke-width="1"/>
<text x="472.1" y="212.6" font-family='"Liberation Sans", sans-serif' font-size="7.0" font-weight="bold" text-anchor="end" fill="#222" stroke="#222" stroke-width="0.22">100</text>
<line x1="473.1" y1="177.4" x2="477.6" y2="177.4" stroke="#2a2a2a" stroke-width="1"/>
<text x="472.1" y="179.9" font-family='"Liberation Sans", sans-serif' font-size="7.0" font-weight="bold" text-anchor="end" fill="#222" stroke="#222" stroke-width="0.22">150</text>
<rect x="482.7" y="249.94" width="9" height="25.56" fill="#9b82c6" stroke="#2d2a72" stroke-width="1.2"/>
<circle cx="486.4" cy="249.04" r="1.05" fill="#6a3fc0"/>
<circle cx="487.84" cy="245.42" r="1.05" fill="#6a3fc0"/>
<circle cx="484.22" cy="250.15" r="1.05" fill="#6a3fc0"/>
<circle cx="489.27" cy="250.16" r="1.05" fill="#6a3fc0"/>
<circle cx="490.23" cy="249.47" r="1.05" fill="#6a3fc0"/>
<circle cx="487.02" cy="247.05" r="1.05" fill="#6a3fc0"/>
<circle cx="488.05" cy="247.49" r="1.05" fill="#6a3fc0"/>
<circle cx="485.06" cy="252.4" r="1.05" fill="#6a3fc0"/>
<circle cx="487.34" cy="253.52" r="1.05" fill="#6a3fc0"/>
<circle cx="488.68" cy="254.08" r="1.05" fill="#6a3fc0"/>
<line x1="487.2" y1="246.31" x2="487.2" y2="249.34" stroke="#2d2a72" stroke-width="0.9"/>
<line x1="484.7" y1="246.31" x2="489.7" y2="246.31" stroke="#2d2a72" stroke-width="0.9"/>
<rect x="498" y="191.08" width="8.6" height="84.42" fill="#62c3ea" stroke="#3b55bb" stroke-width="1.2"/>
<circle cx="503.82" cy="191.56" r="1.05" fill="#3a4fb6"/>
<circle cx="502.84" cy="192.49" r="1.05" fill="#3a4fb6"/>
<circle cx="504.45" cy="190.98" r="1.05" fill="#3a4fb6"/>
<circle cx="502.14" cy="188.99" r="1.05" fill="#3a4fb6"/>
<circle cx="503.56" cy="192.99" r="1.05" fill="#3a4fb6"/>
<circle cx="504.78" cy="203.13" r="1.05" fill="#3a4fb6"/>
<circle cx="501.97" cy="199.39" r="1.05" fill="#3a4fb6"/>
<circle cx="504.86" cy="183.56" r="1.05" fill="#3a4fb6"/>
<circle cx="500.16" cy="188.42" r="1.05" fill="#3a4fb6"/>
<circle cx="500.64" cy="192.44" r="1.05" fill="#3a4fb6"/>
<line x1="502.3" y1="185.62" x2="502.3" y2="190.48" stroke="#3b55bb" stroke-width="0.9"/>
<line x1="499.8" y1="185.62" x2="504.8" y2="185.62" stroke="#3b55bb" stroke-width="0.9"/>
<rect x="513.3" y="251.9" width="8.9" height="23.6" fill="#6fd5d1" stroke="#2a7b86" stroke-width="1.2"/>
<circle cx="518.52" cy="248.02" r="1.05" fill="#35a070"/>
<circle cx="516.54" cy="252.03" r="1.05" fill="#35a070"/>
<circle cx="516.85" cy="254.4" r="1.05" fill="#35a070"/>
<circle cx="518.27" cy="251.44" r="1.05" fill="#35a070"/>
<circle cx="518.85" cy="257.17" r="1.05" fill="#35a070"/>
<circle cx="520.35" cy="254.74" r="1.05" fill="#35a070"/>
<circle cx="518.79" cy="245.33" r="1.05" fill="#35a070"/>
<circle cx="515.71" cy="258.86" r="1.05" fill="#35a070"/>
<circle cx="520.2" cy="246.1" r="1.05" fill="#35a070"/>
<circle cx="518.17" cy="257.53" r="1.05" fill="#35a070"/>
<line x1="517.75" y1="248.27" x2="517.75" y2="251.3" stroke="#2a7b86" stroke-width="0.9"/>
<line x1="515.25" y1="248.27" x2="520.25" y2="248.27" stroke="#2a7b86" stroke-width="0.9"/>
<rect x="528.5" y="208.08" width="8.6" height="67.42" fill="#f09a86" stroke="#ea5530" stroke-width="1.2"/>
<circle cx="534.75" cy="208.09" r="1.05" fill="#e8552e"/>
<circle cx="533.23" cy="210.12" r="1.05" fill="#e8552e"/>
<circle cx="534.88" cy="207.79" r="1.05" fill="#e8552e"/>
<circle cx="535.68" cy="206.1" r="1.05" fill="#e8552e"/>
<circle cx="532.27" cy="201.5" r="1.05" fill="#e8552e"/>
<circle cx="530.75" cy="203.76" r="1.05" fill="#e8552e"/>
<circle cx="534.99" cy="209.31" r="1.05" fill="#e8552e"/>
<circle cx="530.12" cy="201.02" r="1.05" fill="#e8552e"/>
<circle cx="534.08" cy="208.38" r="1.05" fill="#e8552e"/>
<circle cx="531.81" cy="208.27" r="1.05" fill="#e8552e"/>
<line x1="532.8" y1="203.99" x2="532.8" y2="207.48" stroke="#ea5530" stroke-width="0.9"/>
<line x1="530.3" y1="203.99" x2="535.3" y2="203.99" stroke="#ea5530" stroke-width="0.9"/>
<polyline points="487.2,242.42 487.2,170 502.3,170 502.3,180.56" fill="none" stroke="#2a2a2a" stroke-width="1"/>
<text x="494.75" y="168.1" font-family='"Liberation Sans", sans-serif' font-size="9.8" font-weight="bold" text-anchor="middle" fill="#222" stroke="#222" stroke-width="0.22">****</text>
<polyline points="517.75,242.33 517.75,170 532.8,170 532.8,198.02" fill="none" stroke="#2a2a2a" stroke-width="1"/>
<text x="525.27" y="168.1" font-family='"Liberation Sans", sans-serif' font-size="9.8" font-weight="bold" text-anchor="middle" fill="#222" stroke="#222" stroke-width="0.22">****</text>
<polyline points="502.3,157.8 502.3,152.3 532.8,152.3 532.8,157.8" fill="none" stroke="#2a2a2a" stroke-width="1"/>
<text x="517.55" y="150.4" font-family='"Liberation Sans", sans-serif' font-size="9.8" font-weight="bold" text-anchor="middle" fill="#222" stroke="#222" stroke-width="0.22">****</text>
<text x="454.7" y="274.5" font-family='"Liberation Sans", sans-serif' font-size="8.3" font-weight="bold" text-anchor="start" fill="#111" stroke="#111" stroke-width="0.22" transform="rotate(-90 454.7 274.5)" textLength="97.8" lengthAdjust="spacingAndGlyphs">Liver TC (μmol/g protein)</text>
<line x1="586.9" y1="175.6" x2="586.9" y2="274" stroke="#2a2a2a" stroke-width="1.1"/>
<line x1="586.4" y1="273.5" x2="652.4" y2="273.5" stroke="#2a2a2a" stroke-width="1.1"/>
<line x1="582.4" y1="273.5" x2="586.9" y2="273.5" stroke="#2a2a2a" stroke-width="1"/>
<text x="581.4" y="276" font-family='"Liberation Sans", sans-serif' font-size="7.0" font-weight="bold" text-anchor="end" fill="#222" stroke="#222" stroke-width="0.22">0</text>
<line x1="582.4" y1="249" x2="586.9" y2="249" stroke="#2a2a2a" stroke-width="1"/>
<text x="581.4" y="251.5" font-family='"Liberation Sans", sans-serif' font-size="7.0" font-weight="bold" text-anchor="end" fill="#222" stroke="#222" stroke-width="0.22">50</text>
<line x1="582.4" y1="224.5" x2="586.9" y2="224.5" stroke="#2a2a2a" stroke-width="1"/>
<text x="581.4" y="227" font-family='"Liberation Sans", sans-serif' font-size="7.0" font-weight="bold" text-anchor="end" fill="#222" stroke="#222" stroke-width="0.22">100</text>
<line x1="582.4" y1="200" x2="586.9" y2="200" stroke="#2a2a2a" stroke-width="1"/>
<text x="581.4" y="202.5" font-family='"Liberation Sans", sans-serif' font-size="7.0" font-weight="bold" text-anchor="end" fill="#222" stroke="#222" stroke-width="0.22">150</text>
<line x1="582.4" y1="175.5" x2="586.9" y2="175.5" stroke="#2a2a2a" stroke-width="1"/>
<text x="581.4" y="178" font-family='"Liberation Sans", sans-serif' font-size="7.0" font-weight="bold" text-anchor="end" fill="#222" stroke="#222" stroke-width="0.22">200</text>
<rect x="592.2" y="254.01" width="8.4" height="19.49" fill="#9b82c6" stroke="#2d2a72" stroke-width="1.2"/>
<circle cx="596.43" cy="248.57" r="1.05" fill="#6a3fc0"/>
<circle cx="599.27" cy="257.9" r="1.05" fill="#6a3fc0"/>
<circle cx="596.97" cy="253.75" r="1.05" fill="#6a3fc0"/>
<circle cx="593.7" cy="252.53" r="1.05" fill="#6a3fc0"/>
<circle cx="597.04" cy="252.63" r="1.05" fill="#6a3fc0"/>
<circle cx="594.42" cy="251.13" r="1.05" fill="#6a3fc0"/>
<circle cx="595.33" cy="248.85" r="1.05" fill="#6a3fc0"/>
<circle cx="599.04" cy="252.16" r="1.05" fill="#6a3fc0"/>
<circle cx="596.17" cy="251.59" r="1.05" fill="#6a3fc0"/>
<circle cx="596.52" cy="254.8" r="1.05" fill="#6a3fc0"/>
<line x1="596.4" y1="250.84" x2="596.4" y2="253.41" stroke="#2d2a72" stroke-width="0.9"/>
<line x1="593.9" y1="250.84" x2="598.9" y2="250.84" stroke="#2d2a72" stroke-width="0.9"/>
<rect x="607.3" y="204.52" width="8.6" height="68.98" fill="#62c3ea" stroke="#3b55bb" stroke-width="1.2"/>
<circle cx="611.95" cy="208.32" r="1.05" fill="#3a4fb6"/>
<circle cx="612.31" cy="209.52" r="1.05" fill="#3a4fb6"/>
<circle cx="611.2" cy="198.06" r="1.05" fill="#3a4fb6"/>
<circle cx="612.9" cy="206.21" r="1.05" fill="#3a4fb6"/>
<circle cx="614.41" cy="203.57" r="1.05" fill="#3a4fb6"/>
<circle cx="611.72" cy="199.45" r="1.05" fill="#3a4fb6"/>
<circle cx="611.1" cy="204.69" r="1.05" fill="#3a4fb6"/>
<circle cx="612.07" cy="204.16" r="1.05" fill="#3a4fb6"/>
<circle cx="612.38" cy="196.66" r="1.05" fill="#3a4fb6"/>
<circle cx="609.01" cy="203" r="1.05" fill="#3a4fb6"/>
<line x1="611.6" y1="199.63" x2="611.6" y2="203.92" stroke="#3b55bb" stroke-width="0.9"/>
<line x1="609.1" y1="199.63" x2="614.1" y2="199.63" stroke="#3b55bb" stroke-width="0.9"/>
<rect x="622.9" y="254.99" width="8.4" height="18.51" fill="#6fd5d1" stroke="#2a7b86" stroke-width="1.2"/>
<circle cx="628.13" cy="256.23" r="1.05" fill="#35a070"/>
<circle cx="626.25" cy="256.28" r="1.05" fill="#35a070"/>
<circle cx="624.35" cy="255.42" r="1.05" fill="#35a070"/>
<circle cx="624.57" cy="258.1" r="1.05" fill="#35a070"/>
<circle cx="625.67" cy="257.1" r="1.05" fill="#35a070"/>
<circle cx="626.85" cy="259.8" r="1.05" fill="#35a070"/>
<circle cx="626.32" cy="256.12" r="1.05" fill="#35a070"/>
<circle cx="626.02" cy="255.53" r="1.05" fill="#35a070"/>
<circle cx="625.95" cy="256.54" r="1.05" fill="#35a070"/>
<circle cx="626.39" cy="252.07" r="1.05" fill="#35a070"/>
<line x1="627.1" y1="251.82" x2="627.1" y2="254.39" stroke="#2a7b86" stroke-width="0.9"/>
<line x1="624.6" y1="251.82" x2="629.6" y2="251.82" stroke="#2a7b86" stroke-width="0.9"/>
<rect x="638" y="222.65" width="8.2" height="50.85" fill="#f09a86" stroke="#ea5530" stroke-width="1.2"/>
<circle cx="642.49" cy="221.95" r="1.05" fill="#e8552e"/>
<circle cx="643.43" cy="222.73" r="1.05" fill="#e8552e"/>
<circle cx="643.81" cy="222.82" r="1.05" fill="#e8552e"/>
<circle cx="640.63" cy="220.11" r="1.05" fill="#e8552e"/>
<circle cx="643.22" cy="220.85" r="1.05" fill="#e8552e"/>
<circle cx="639.85" cy="219.15" r="1.05" fill="#e8552e"/>
<circle cx="643.98" cy="223.21" r="1.05" fill="#e8552e"/>
<circle cx="641.75" cy="219.67" r="1.05" fill="#e8552e"/>
<circle cx="641.18" cy="220.95" r="1.05" fill="#e8552e"/>
<circle cx="642.95" cy="223.46" r="1.05" fill="#e8552e"/>
<line x1="642.1" y1="219.14" x2="642.1" y2="222.05" stroke="#ea5530" stroke-width="0.9"/>
<line x1="639.6" y1="219.14" x2="644.6" y2="219.14" stroke="#ea5530" stroke-width="0.9"/>
<polyline points="596.4,245.57 596.4,186.8 611.6,186.8 611.6,193.66" fill="none" stroke="#2a2a2a" stroke-width="1"/>
<text x="604" y="184.9" font-family='"Liberation Sans", sans-serif' font-size="9.8" font-weight="bold" text-anchor="middle" fill="#222" stroke="#222" stroke-width="0.22">****</text>
<polyline points="627.1,248.82 627.1,186.8 642.1,186.8 642.1,216.14" fill="none" stroke="#2a2a2a" stroke-width="1"/>
<text x="634.6" y="184.9" font-family='"Liberation Sans", sans-serif' font-size="9.8" font-weight="bold" text-anchor="middle" fill="#222" stroke="#222" stroke-width="0.22">****</text>
<polyline points="611.6,174 611.6,168.4 642.1,168.4 642.1,174" fill="none" stroke="#2a2a2a" stroke-width="1"/>
<text x="626.85" y="166.5" font-family='"Liberation Sans", sans-serif' font-size="9.8" font-weight="bold" text-anchor="middle" fill="#222" stroke="#222" stroke-width="0.22">****</text>
<text x="563.9" y="272.6" font-family='"Liberation Sans", sans-serif' font-size="8.4" font-weight="bold" text-anchor="start" fill="#111" stroke="#111" stroke-width="0.22" transform="rotate(-90 563.9 272.6)" textLength="97.1" lengthAdjust="spacingAndGlyphs">Liver TG (μmol/g protein)</text>
<line x1="478" y1="307.5" x2="478" y2="406.3" stroke="#2a2a2a" stroke-width="1.1"/>
<line x1="477.5" y1="405.8" x2="543.8" y2="405.8" stroke="#2a2a2a" stroke-width="1.1"/>
<line x1="473.5" y1="405.8" x2="478" y2="405.8" stroke="#2a2a2a" stroke-width="1"/>
<text x="472.5" y="408.3" font-family='"Liberation Sans", sans-serif' font-size="7.0" font-weight="bold" text-anchor="end" fill="#222" stroke="#222" stroke-width="0.22">0</text>
<line x1="473.5" y1="373" x2="478" y2="373" stroke="#2a2a2a" stroke-width="1"/>
<text x="472.5" y="375.5" font-family='"Liberation Sans", sans-serif' font-size="7.0" font-weight="bold" text-anchor="end" fill="#222" stroke="#222" stroke-width="0.22">50</text>
<line x1="473.5" y1="340.2" x2="478" y2="340.2" stroke="#2a2a2a" stroke-width="1"/>
<text x="472.5" y="342.7" font-family='"Liberation Sans", sans-serif' font-size="7.0" font-weight="bold" text-anchor="end" fill="#222" stroke="#222" stroke-width="0.22">100</text>
<line x1="473.5" y1="307.4" x2="478" y2="307.4" stroke="#2a2a2a" stroke-width="1"/>
<text x="472.5" y="309.9" font-family='"Liberation Sans", sans-serif' font-size="7.0" font-weight="bold" text-anchor="end" fill="#222" stroke="#222" stroke-width="0.22">150</text>
<rect x="483.9" y="388.69" width="8.6" height="17.11" fill="#9b82c6" stroke="#2d2a72" stroke-width="1.2"/>
<circle cx="486.58" cy="385.5" r="1.05" fill="#6a3fc0"/>
<circle cx="485.97" cy="390.37" r="1.05" fill="#6a3fc0"/>
<circle cx="490" cy="390.1" r="1.05" fill="#6a3fc0"/>
<circle cx="490.19" cy="388.47" r="1.05" fill="#6a3fc0"/>
<circle cx="490.01" cy="387.06" r="1.05" fill="#6a3fc0"/>
<circle cx="489.03" cy="385.76" r="1.05" fill="#6a3fc0"/>
<circle cx="486.02" cy="387.08" r="1.05" fill="#6a3fc0"/>
<circle cx="486.98" cy="390.81" r="1.05" fill="#6a3fc0"/>
<circle cx="487.3" cy="387.41" r="1.05" fill="#6a3fc0"/>
<circle cx="487.71" cy="390.5" r="1.05" fill="#6a3fc0"/>
<line x1="488.2" y1="385.05" x2="488.2" y2="388.09" stroke="#2d2a72" stroke-width="0.9"/>
<line x1="485.7" y1="385.05" x2="490.7" y2="385.05" stroke="#2d2a72" stroke-width="0.9"/>
<rect x="498.8" y="328.34" width="8.5" height="77.46" fill="#62c3ea" stroke="#3b55bb" stroke-width="1.2"/>
<circle cx="505.5" cy="331.98" r="1.05" fill="#3a4fb6"/>
<circle cx="501.05" cy="325.39" r="1.05" fill="#3a4fb6"/>
<circle cx="505.26" cy="316.43" r="1.05" fill="#3a4fb6"/>
<circle cx="505.88" cy="327.4" r="1.05" fill="#3a4fb6"/>
<circle cx="505.54" cy="338.33" r="1.05" fill="#3a4fb6"/>
<circle cx="501.43" cy="323.1" r="1.05" fill="#3a4fb6"/>
<circle cx="504" cy="327.99" r="1.05" fill="#3a4fb6"/>
<circle cx="503.16" cy="336.72" r="1.05" fill="#3a4fb6"/>
<circle cx="501.46" cy="328.78" r="1.05" fill="#3a4fb6"/>
<circle cx="500.54" cy="323.55" r="1.05" fill="#3a4fb6"/>
<line x1="503.05" y1="323.78" x2="503.05" y2="327.74" stroke="#3b55bb" stroke-width="0.9"/>
<line x1="500.55" y1="323.78" x2="505.55" y2="323.78" stroke="#3b55bb" stroke-width="0.9"/>
<rect x="513.9" y="390.66" width="8.3" height="15.14" fill="#6fd5d1" stroke="#2a7b86" stroke-width="1.2"/>
<circle cx="519.82" cy="391.98" r="1.05" fill="#35a070"/>
<circle cx="515.46" cy="391.25" r="1.05" fill="#35a070"/>
<circle cx="520.47" cy="386.57" r="1.05" fill="#35a070"/>
<circle cx="520.31" cy="392.47" r="1.05" fill="#35a070"/>
<circle cx="515.27" cy="387.14" r="1.05" fill="#35a070"/>
<circle cx="519.45" cy="392.19" r="1.05" fill="#35a070"/>
<circle cx="518.98" cy="388.96" r="1.05" fill="#35a070"/>
<circle cx="518.19" cy="388" r="1.05" fill="#35a070"/>
<circle cx="518.69" cy="395.64" r="1.05" fill="#35a070"/>
<circle cx="517.15" cy="386.69" r="1.05" fill="#35a070"/>
<line x1="518.05" y1="387.25" x2="518.05" y2="390.06" stroke="#2a7b86" stroke-width="0.9"/>
<line x1="515.55" y1="387.25" x2="520.55" y2="387.25" stroke="#2a7b86" stroke-width="0.9"/>
<rect x="528.7" y="349.98" width="8.6" height="55.82" fill="#f09a86" stroke="#ea5530" stroke-width="1.2"/>
<circle cx="532.87" cy="349.51" r="1.05" fill="#e8552e"/>
<circle cx="534.66" cy="341.56" r="1.05" fill="#e8552e"/>
<circle cx="533.2" cy="350.94" r="1.05" fill="#e8552e"/>
<circle cx="534.86" cy="347.29" r="1.05" fill="#e8552e"/>
<circle cx="535.48" cy="346.08" r="1.05" fill="#e8552e"/>
<circle cx="534.8" cy="343.25" r="1.05" fill="#e8552e"/>
<circle cx="533.76" cy="349.17" r="1.05" fill="#e8552e"/>
<circle cx="535.13" cy="349.82" r="1.05" fill="#e8552e"/>
<circle cx="531.64" cy="346.4" r="1.05" fill="#e8552e"/>
<circle cx="533.16" cy="348.42" r="1.05" fill="#e8552e"/>
<line x1="533" y1="345.89" x2="533" y2="349.38" stroke="#ea5530" stroke-width="0.9"/>
<line x1="530.5" y1="345.89" x2="535.5" y2="345.89" stroke="#ea5530" stroke-width="0.9"/>
<polyline points="488.2,382.05 488.2,310.8 503.05,310.8 503.05,313.43" fill="none" stroke="#2a2a2a" stroke-width="1"/>
<text x="495.62" y="308.9" font-family='"Liberation Sans", sans-serif' font-size="9.8" font-weight="bold" text-anchor="middle" fill="#222" stroke="#222" stroke-width="0.22">****</text>
<polyline points="518.05,383.57 518.05,310.8 533,310.8 533,338.56" fill="none" stroke="#2a2a2a" stroke-width="1"/>
<text x="525.52" y="308.9" font-family='"Liberation Sans", sans-serif' font-size="9.8" font-weight="bold" text-anchor="middle" fill="#222" stroke="#222" stroke-width="0.22">****</text>
<polyline points="503.05,299 503.05,293.4 533,293.4 533,299" fill="none" stroke="#2a2a2a" stroke-width="1"/>
<text x="518.02" y="291.5" font-family='"Liberation Sans", sans-serif' font-size="9.8" font-weight="bold" text-anchor="middle" fill="#222" stroke="#222" stroke-width="0.22">****</text>
<text x="455.6" y="388.2" font-family='"Liberation Sans", sans-serif' font-size="8.6" font-weight="bold" text-anchor="start" fill="#111" stroke="#111" stroke-width="0.22" transform="rotate(-90 455.6 388.2)" textLength="64" lengthAdjust="spacingAndGlyphs">Serum AST (U/L)</text>
<line x1="592" y1="300.4" x2="592" y2="405.8" stroke="#2a2a2a" stroke-width="1.1"/>
<line x1="591.5" y1="405.3" x2="662.5" y2="405.3" stroke="#2a2a2a" stroke-width="1.1"/>
<line x1="587.5" y1="405.3" x2="592" y2="405.3" stroke="#2a2a2a" stroke-width="1"/>
<text x="586.5" y="407.8" font-family='"Liberation Sans", sans-serif' font-size="7.0" font-weight="bold" text-anchor="end" fill="#222" stroke="#222" stroke-width="0.22">0</text>
<line x1="587.5" y1="379.1" x2="592" y2="379.1" stroke="#2a2a2a" stroke-width="1"/>
<text x="586.5" y="381.6" font-family='"Liberation Sans", sans-serif' font-size="7.0" font-weight="bold" text-anchor="end" fill="#222" stroke="#222" stroke-width="0.22">50</text>
<line x1="587.5" y1="352.9" x2="592" y2="352.9" stroke="#2a2a2a" stroke-width="1"/>
<text x="586.5" y="355.4" font-family='"Liberation Sans", sans-serif' font-size="7.0" font-weight="bold" text-anchor="end" fill="#222" stroke="#222" stroke-width="0.22">100</text>
<line x1="587.5" y1="326.7" x2="592" y2="326.7" stroke="#2a2a2a" stroke-width="1"/>
<text x="586.5" y="329.2" font-family='"Liberation Sans", sans-serif' font-size="7.0" font-weight="bold" text-anchor="end" fill="#222" stroke="#222" stroke-width="0.22">150</text>
<line x1="587.5" y1="300.5" x2="592" y2="300.5" stroke="#2a2a2a" stroke-width="1"/>
<text x="586.5" y="303" font-family='"Liberation Sans", sans-serif' font-size="7.0" font-weight="bold" text-anchor="end" fill="#222" stroke="#222" stroke-width="0.22">200</text>
<rect x="597.9" y="384.94" width="9.5" height="20.36" fill="#9b82c6" stroke="#2d2a72" stroke-width="1.2"/>
<circle cx="604.43" cy="387.17" r="1.05" fill="#6a3fc0"/>
<circle cx="599.45" cy="382.85" r="1.05" fill="#6a3fc0"/>
<circle cx="600.24" cy="382.95" r="1.05" fill="#6a3fc0"/>
<circle cx="599.88" cy="383.84" r="1.05" fill="#6a3fc0"/>
<circle cx="599.99" cy="378.85" r="1.05" fill="#6a3fc0"/>
<circle cx="602.66" cy="385.22" r="1.05" fill="#6a3fc0"/>
<circle cx="601.7" cy="385.33" r="1.05" fill="#6a3fc0"/>
<circle cx="603.59" cy="382.09" r="1.05" fill="#6a3fc0"/>
<circle cx="600.67" cy="386.63" r="1.05" fill="#6a3fc0"/>
<circle cx="601.55" cy="385.73" r="1.05" fill="#6a3fc0"/>
<line x1="602.65" y1="381.49" x2="602.65" y2="384.34" stroke="#2d2a72" stroke-width="0.9"/>
<line x1="600.15" y1="381.49" x2="605.15" y2="381.49" stroke="#2d2a72" stroke-width="0.9"/>
<rect x="614.3" y="331.49" width="9.4" height="73.81" fill="#62c3ea" stroke="#3b55bb" stroke-width="1.2"/>
<circle cx="620.37" cy="326.9" r="1.05" fill="#3a4fb6"/>
<circle cx="618.24" cy="326.96" r="1.05" fill="#3a4fb6"/>
<circle cx="618.19" cy="328.47" r="1.05" fill="#3a4fb6"/>
<circle cx="619.66" cy="329.56" r="1.05" fill="#3a4fb6"/>
<circle cx="620.92" cy="330.02" r="1.05" fill="#3a4fb6"/>
<circle cx="619.78" cy="335.11" r="1.05" fill="#3a4fb6"/>
<circle cx="618.98" cy="334.75" r="1.05" fill="#3a4fb6"/>
<circle cx="620.29" cy="329.12" r="1.05" fill="#3a4fb6"/>
<circle cx="618.75" cy="336.84" r="1.05" fill="#3a4fb6"/>
<circle cx="617.38" cy="327.65" r="1.05" fill="#3a4fb6"/>
<line x1="619" y1="327.12" x2="619" y2="330.89" stroke="#3b55bb" stroke-width="0.9"/>
<line x1="616.5" y1="327.12" x2="621.5" y2="327.12" stroke="#3b55bb" stroke-width="0.9"/>
<rect x="630.4" y="387.56" width="9.6" height="17.74" fill="#6fd5d1" stroke="#2a7b86" stroke-width="1.2"/>
<circle cx="632.42" cy="391.21" r="1.05" fill="#35a070"/>
<circle cx="634.71" cy="387.93" r="1.05" fill="#35a070"/>
<circle cx="638.03" cy="392.16" r="1.05" fill="#35a070"/>
<circle cx="634.39" cy="384.34" r="1.05" fill="#35a070"/>
<circle cx="633.66" cy="382.95" r="1.05" fill="#35a070"/>
<circle cx="634.97" cy="389.96" r="1.05" fill="#35a070"/>
<circle cx="636.25" cy="383.25" r="1.05" fill="#35a070"/>
<circle cx="637.71" cy="383.34" r="1.05" fill="#35a070"/>
<circle cx="636.71" cy="385.85" r="1.05" fill="#35a070"/>
<circle cx="635.61" cy="391.01" r="1.05" fill="#35a070"/>
<line x1="635.2" y1="384.11" x2="635.2" y2="386.96" stroke="#2a7b86" stroke-width="0.9"/>
<line x1="632.7" y1="384.11" x2="637.7" y2="384.11" stroke="#2a7b86" stroke-width="0.9"/>
<rect x="646.8" y="346.69" width="9.2" height="58.61" fill="#f09a86" stroke="#ea5530" stroke-width="1.2"/>
<circle cx="648.31" cy="340.75" r="1.05" fill="#e8552e"/>
<circle cx="649.18" cy="342.05" r="1.05" fill="#e8552e"/>
<circle cx="648.85" cy="345.86" r="1.05" fill="#e8552e"/>
<circle cx="648.9" cy="347.58" r="1.05" fill="#e8552e"/>
<circle cx="648.43" cy="343.78" r="1.05" fill="#e8552e"/>
<circle cx="653.53" cy="348.25" r="1.05" fill="#e8552e"/>
<circle cx="652.48" cy="339.07" r="1.05" fill="#e8552e"/>
<circle cx="653.5" cy="339.39" r="1.05" fill="#e8552e"/>
<circle cx="653.26" cy="339.76" r="1.05" fill="#e8552e"/>
<circle cx="648.51" cy="348.04" r="1.05" fill="#e8552e"/>
<line x1="651.4" y1="341.95" x2="651.4" y2="346.09" stroke="#ea5530" stroke-width="0.9"/>
<line x1="648.9" y1="341.95" x2="653.9" y2="341.95" stroke="#ea5530" stroke-width="0.9"/>
<polyline points="602.65,375.85 602.65,313.3 619,313.3 619,323.9" fill="none" stroke="#2a2a2a" stroke-width="1"/>
<text x="610.83" y="311.4" font-family='"Liberation Sans", sans-serif' font-size="9.8" font-weight="bold" text-anchor="middle" fill="#222" stroke="#222" stroke-width="0.22">****</text>
<polyline points="635.2,379.95 635.2,313.3 651.4,313.3 651.4,336.07" fill="none" stroke="#2a2a2a" stroke-width="1"/>
<text x="643.3" y="311.4" font-family='"Liberation Sans", sans-serif' font-size="9.8" font-weight="bold" text-anchor="middle" fill="#222" stroke="#222" stroke-width="0.22">****</text>
<polyline points="619,299.5 619,293.7 651.4,293.7 651.4,299.5" fill="none" stroke="#2a2a2a" stroke-width="1"/>
<text x="635.2" y="291.8" font-family='"Liberation Sans", sans-serif' font-size="9.8" font-weight="bold" text-anchor="middle" fill="#222" stroke="#222" stroke-width="0.22">****</text>
<text x="567.9" y="386.1" font-family='"Liberation Sans", sans-serif' font-size="8.9" font-weight="bold" text-anchor="start" fill="#111" stroke="#111" stroke-width="0.22" transform="rotate(-90 567.9 386.1)" textLength="67.8" lengthAdjust="spacingAndGlyphs">Serum ALT (U/L)</text>
<line x1="224.4" y1="478.6" x2="224.4" y2="571.3" stroke="#2a2a2a" stroke-width="1.1"/>
<line x1="223.9" y1="570.8" x2="285" y2="570.8" stroke="#2a2a2a" stroke-width="1.1"/>
<line x1="219.9" y1="570.8" x2="224.4" y2="570.8" stroke="#2a2a2a" stroke-width="1"/>
<text x="218.9" y="573.3" font-family='"Liberation Sans", sans-serif' font-size="7.0" font-weight="bold" text-anchor="end" fill="#222" stroke="#222" stroke-width="0.22">0.0</text>
<line x1="219.9" y1="540.1" x2="224.4" y2="540.1" stroke="#2a2a2a" stroke-width="1"/>
<text x="218.9" y="542.6" font-family='"Liberation Sans", sans-serif' font-size="7.0" font-weight="bold" text-anchor="end" fill="#222" stroke="#222" stroke-width="0.22">0.5</text>
<line x1="219.9" y1="509.4" x2="224.4" y2="509.4" stroke="#2a2a2a" stroke-width="1"/>
<text x="218.9" y="511.9" font-family='"Liberation Sans", sans-serif' font-size="7.0" font-weight="bold" text-anchor="end" fill="#222" stroke="#222" stroke-width="0.22">1.0</text>
<line x1="219.9" y1="478.7" x2="224.4" y2="478.7" stroke="#2a2a2a" stroke-width="1"/>
<text x="218.9" y="481.2" font-family='"Liberation Sans", sans-serif' font-size="7.0" font-weight="bold" text-anchor="end" fill="#222" stroke="#222" stroke-width="0.22">1.5</text>
<rect x="230.1" y="531.49" width="7.4" height="39.31" fill="#9b82c6" stroke="#2d2a72" stroke-width="1.2"/>
<circle cx="233.26" cy="530.71" r="1.1" fill="#6a3fc0"/>
<circle cx="232.02" cy="528.83" r="1.1" fill="#6a3fc0"/>
<circle cx="235.96" cy="526.8" r="1.1" fill="#6a3fc0"/>
<line x1="233.8" y1="527.11" x2="233.8" y2="530.89" stroke="#2d2a72" stroke-width="0.9"/>
<line x1="231.3" y1="527.11" x2="236.3" y2="527.11" stroke="#2d2a72" stroke-width="0.9"/>
<rect x="244" y="513.07" width="7.8" height="57.73" fill="#62c3ea" stroke="#3b55bb" stroke-width="1.2"/>
<circle cx="249.52" cy="510.65" r="1.1" fill="#3a4fb6"/>
<circle cx="248.1" cy="512.17" r="1.1" fill="#3a4fb6"/>
<circle cx="246.69" cy="515.59" r="1.1" fill="#3a4fb6"/>
<line x1="247.9" y1="508.69" x2="247.9" y2="512.47" stroke="#3b55bb" stroke-width="0.9"/>
<line x1="245.4" y1="508.69" x2="250.4" y2="508.69" stroke="#3b55bb" stroke-width="0.9"/>
<rect x="258.3" y="535.79" width="7.8" height="35.01" fill="#6fd5d1" stroke="#2a7b86" stroke-width="1.2"/>
<circle cx="260.66" cy="534.05" r="1.1" fill="#35a070"/>
<circle cx="264.51" cy="533.03" r="1.1" fill="#35a070"/>
<circle cx="263.82" cy="530.74" r="1.1" fill="#35a070"/>
<line x1="262.2" y1="530.98" x2="262.2" y2="535.19" stroke="#2a7b86" stroke-width="0.9"/>
<line x1="259.7" y1="530.98" x2="264.7" y2="530.98" stroke="#2a7b86" stroke-width="0.9"/>
<rect x="272.6" y="525.35" width="7.8" height="45.45" fill="#f09a86" stroke="#ea5530" stroke-width="1.2"/>
<circle cx="274.84" cy="528.27" r="1.1" fill="#e8552e"/>
<circle cx="277.75" cy="525.89" r="1.1" fill="#e8552e"/>
<circle cx="278.42" cy="521.86" r="1.1" fill="#e8552e"/>
<line x1="276.5" y1="522.26" x2="276.5" y2="524.75" stroke="#ea5530" stroke-width="0.9"/>
<line x1="274" y1="522.26" x2="279" y2="522.26" stroke="#ea5530" stroke-width="0.9"/>
<polyline points="233.8,523.8 233.8,497.6 247.9,497.6 247.9,505.69" fill="none" stroke="#2a2a2a" stroke-width="1"/>
<text x="240.85" y="495.7" font-family='"Liberation Sans", sans-serif' font-size="9.8" font-weight="bold" text-anchor="middle" fill="#222" stroke="#222" stroke-width="0.22">**</text>
<polyline points="262.2,527.74 262.2,497.6 276.5,497.6 276.5,518.86" fill="none" stroke="#2a2a2a" stroke-width="1"/>
<text x="269.35" y="495.7" font-family='"Liberation Sans", sans-serif' font-size="9.8" font-weight="bold" text-anchor="middle" fill="#222" stroke="#222" stroke-width="0.22">*</text>
<polyline points="247.9,485.5 247.9,480.2 276.5,480.2 276.5,485.5" fill="none" stroke="#2a2a2a" stroke-width="1"/>
<text x="262.2" y="478.3" font-family='"Liberation Sans", sans-serif' font-size="9.8" font-weight="bold" text-anchor="middle" fill="#222" stroke="#222" stroke-width="0.22">*</text>
<text x="204.9" y="573.9" font-family='"Liberation Sans", sans-serif' font-size="8.0" font-weight="bold" text-anchor="start" fill="#111" stroke="#111" stroke-width="0.22" transform="rotate(-90 204.9 573.9)" textLength="100.9" lengthAdjust="spacingAndGlyphs">Relative FASN protein level</text>
<line x1="328.9" y1="481.9" x2="328.9" y2="575.1" stroke="#2a2a2a" stroke-width="1.1"/>
<line x1="328.4" y1="574.6" x2="391.6" y2="574.6" stroke="#2a2a2a" stroke-width="1.1"/>
<line x1="324.4" y1="574.6" x2="328.9" y2="574.6" stroke="#2a2a2a" stroke-width="1"/>
<text x="323.4" y="577.1" font-family='"Liberation Sans", sans-serif' font-size="7.0" font-weight="bold" text-anchor="end" fill="#222" stroke="#222" stroke-width="0.22">0.0</text>
<line x1="324.4" y1="543.7" x2="328.9" y2="543.7" stroke="#2a2a2a" stroke-width="1"/>
<text x="323.4" y="546.2" font-family='"Liberation Sans", sans-serif' font-size="7.0" font-weight="bold" text-anchor="end" fill="#222" stroke="#222" stroke-width="0.22">0.5</text>
<line x1="324.4" y1="512.8" x2="328.9" y2="512.8" stroke="#2a2a2a" stroke-width="1"/>
<text x="323.4" y="515.3" font-family='"Liberation Sans", sans-serif' font-size="7.0" font-weight="bold" text-anchor="end" fill="#222" stroke="#222" stroke-width="0.22">1.0</text>
<line x1="324.4" y1="481.9" x2="328.9" y2="481.9" stroke="#2a2a2a" stroke-width="1"/>
<text x="323.4" y="484.4" font-family='"Liberation Sans", sans-serif' font-size="7.0" font-weight="bold" text-anchor="end" fill="#222" stroke="#222" stroke-width="0.22">1.5</text>
<rect x="334.7" y="527" width="8.1" height="47.6" fill="#9b82c6" stroke="#2d2a72" stroke-width="1.2"/>
<circle cx="339.34" cy="525.47" r="1.1" fill="#6a3fc0"/>
<circle cx="339.71" cy="527.26" r="1.1" fill="#6a3fc0"/>
<circle cx="338.6" cy="528.25" r="1.1" fill="#6a3fc0"/>
<line x1="338.75" y1="523.47" x2="338.75" y2="526.4" stroke="#2d2a72" stroke-width="0.9"/>
<line x1="336.25" y1="523.47" x2="341.25" y2="523.47" stroke="#2d2a72" stroke-width="0.9"/>
<rect x="348.9" y="507.84" width="7.9" height="66.76" fill="#62c3ea" stroke="#3b55bb" stroke-width="1.2"/>
<circle cx="350.61" cy="507.31" r="1.1" fill="#3a4fb6"/>
<circle cx="353.11" cy="501.79" r="1.1" fill="#3a4fb6"/>
<circle cx="351.76" cy="509.61" r="1.1" fill="#3a4fb6"/>
<line x1="352.85" y1="504.31" x2="352.85" y2="507.24" stroke="#3b55bb" stroke-width="0.9"/>
<line x1="350.35" y1="504.31" x2="355.35" y2="504.31" stroke="#3b55bb" stroke-width="0.9"/>
<rect x="363.3" y="535.65" width="7.9" height="38.95" fill="#6fd5d1" stroke="#2a7b86" stroke-width="1.2"/>
<circle cx="369.34" cy="527.74" r="1.1" fill="#35a070"/>
<circle cx="369.15" cy="539.76" r="1.1" fill="#35a070"/>
<circle cx="367.79" cy="541.94" r="1.1" fill="#35a070"/>
<line x1="367.25" y1="529.95" x2="367.25" y2="535.05" stroke="#2a7b86" stroke-width="0.9"/>
<line x1="364.75" y1="529.95" x2="369.75" y2="529.95" stroke="#2a7b86" stroke-width="0.9"/>
<rect x="377.6" y="523.91" width="8.1" height="50.69" fill="#f09a86" stroke="#ea5530" stroke-width="1.2"/>
<circle cx="381.27" cy="523.43" r="1.1" fill="#e8552e"/>
<circle cx="383.39" cy="522.3" r="1.1" fill="#e8552e"/>
<circle cx="379.1" cy="521.69" r="1.1" fill="#e8552e"/>
<line x1="381.65" y1="520.81" x2="381.65" y2="523.31" stroke="#ea5530" stroke-width="0.9"/>
<line x1="379.15" y1="520.81" x2="384.15" y2="520.81" stroke="#ea5530" stroke-width="0.9"/>
<polyline points="338.75,520.47 338.75,492.8 352.85,492.8 352.85,498.79" fill="none" stroke="#2a2a2a" stroke-width="1"/>
<text x="345.8" y="490.9" font-family='"Liberation Sans", sans-serif' font-size="9.8" font-weight="bold" text-anchor="middle" fill="#222" stroke="#222" stroke-width="0.22">***</text>
<polyline points="367.25,524.74 367.25,492.8 381.65,492.8 381.65,517.81" fill="none" stroke="#2a2a2a" stroke-width="1"/>
<text x="374.45" y="490.9" font-family='"Liberation Sans", sans-serif' font-size="9.8" font-weight="bold" text-anchor="middle" fill="#222" stroke="#222" stroke-width="0.22">*</text>
<polyline points="352.85,481.5 352.85,476.1 381.65,476.1 381.65,481.5" fill="none" stroke="#2a2a2a" stroke-width="1"/>
<text x="367.25" y="474.2" font-family='"Liberation Sans", sans-serif' font-size="9.8" font-weight="bold" text-anchor="middle" fill="#222" stroke="#222" stroke-width="0.22">**</text>
<text x="310.5" y="582.8" font-family='"Liberation Sans", sans-serif' font-size="8.0" font-weight="bold" text-anchor="start" fill="#111" stroke="#111" stroke-width="0.22" transform="rotate(-90 310.5 582.8)" textLength="110.1" lengthAdjust="spacingAndGlyphs">Relative SREBP1 protein level</text>
<line x1="224.4" y1="614.5" x2="224.4" y2="707.6" stroke="#2a2a2a" stroke-width="1.1"/>
<line x1="223.9" y1="707.1" x2="285" y2="707.1" stroke="#2a2a2a" stroke-width="1.1"/>
<line x1="219.9" y1="707.1" x2="224.4" y2="707.1" stroke="#2a2a2a" stroke-width="1"/>
<text x="218.9" y="709.6" font-family='"Liberation Sans", sans-serif' font-size="7.0" font-weight="bold" text-anchor="end" fill="#222" stroke="#222" stroke-width="0.22">0.0</text>
<line x1="219.9" y1="676.3" x2="224.4" y2="676.3" stroke="#2a2a2a" stroke-width="1"/>
<text x="218.9" y="678.8" font-family='"Liberation Sans", sans-serif' font-size="7.0" font-weight="bold" text-anchor="end" fill="#222" stroke="#222" stroke-width="0.22">0.5</text>
<line x1="219.9" y1="645.5" x2="224.4" y2="645.5" stroke="#2a2a2a" stroke-width="1"/>
<text x="218.9" y="648" font-family='"Liberation Sans", sans-serif' font-size="7.0" font-weight="bold" text-anchor="end" fill="#222" stroke="#222" stroke-width="0.22">1.0</text>
<line x1="219.9" y1="614.7" x2="224.4" y2="614.7" stroke="#2a2a2a" stroke-width="1"/>
<text x="218.9" y="617.2" font-family='"Liberation Sans", sans-serif' font-size="7.0" font-weight="bold" text-anchor="end" fill="#222" stroke="#222" stroke-width="0.22">1.5</text>
<rect x="230.1" y="673.82" width="7.4" height="33.28" fill="#9b82c6" stroke="#2d2a72" stroke-width="1.2"/>
<circle cx="232.67" cy="665.27" r="1.1" fill="#6a3fc0"/>
<circle cx="233.98" cy="670.84" r="1.1" fill="#6a3fc0"/>
<circle cx="236.37" cy="678.55" r="1.1" fill="#6a3fc0"/>
<line x1="233.8" y1="668.57" x2="233.8" y2="673.22" stroke="#2d2a72" stroke-width="0.9"/>
<line x1="231.3" y1="668.57" x2="236.3" y2="668.57" stroke="#2d2a72" stroke-width="0.9"/>
<rect x="244" y="640.56" width="7.8" height="66.54" fill="#62c3ea" stroke="#3b55bb" stroke-width="1.2"/>
<circle cx="246.26" cy="639.47" r="1.1" fill="#3a4fb6"/>
<circle cx="248.62" cy="641.65" r="1.1" fill="#3a4fb6"/>
<circle cx="246.69" cy="638.92" r="1.1" fill="#3a4fb6"/>
<line x1="247.9" y1="637.03" x2="247.9" y2="639.96" stroke="#3b55bb" stroke-width="0.9"/>
<line x1="245.4" y1="637.03" x2="250.4" y2="637.03" stroke="#3b55bb" stroke-width="0.9"/>
<rect x="258.3" y="676.9" width="7.8" height="30.2" fill="#6fd5d1" stroke="#2a7b86" stroke-width="1.2"/>
<circle cx="261.23" cy="680.84" r="1.1" fill="#35a070"/>
<circle cx="262.52" cy="670.51" r="1.1" fill="#35a070"/>
<circle cx="259.83" cy="674.61" r="1.1" fill="#35a070"/>
<line x1="262.2" y1="672.51" x2="262.2" y2="676.3" stroke="#2a7b86" stroke-width="0.9"/>
<line x1="259.7" y1="672.51" x2="264.7" y2="672.51" stroke="#2a7b86" stroke-width="0.9"/>
<rect x="272.6" y="660.88" width="7.8" height="46.22" fill="#f09a86" stroke="#ea5530" stroke-width="1.2"/>
<circle cx="275.04" cy="661.25" r="1.1" fill="#e8552e"/>
<circle cx="275.08" cy="659.8" r="1.1" fill="#e8552e"/>
<circle cx="275.59" cy="665.37" r="1.1" fill="#e8552e"/>
<line x1="276.5" y1="656.93" x2="276.5" y2="660.28" stroke="#ea5530" stroke-width="0.9"/>
<line x1="274" y1="656.93" x2="279" y2="656.93" stroke="#ea5530" stroke-width="0.9"/>
<polyline points="233.8,662.27 233.8,626.4 247.9,626.4 247.9,634.03" fill="none" stroke="#2a2a2a" stroke-width="1"/>
<text x="240.85" y="624.5" font-family='"Liberation Sans", sans-serif' font-size="9.8" font-weight="bold" text-anchor="middle" fill="#222" stroke="#222" stroke-width="0.22">****</text>
<polyline points="262.2,667.51 262.2,626.4 276.5,626.4 276.5,653.93" fill="none" stroke="#2a2a2a" stroke-width="1"/>
<text x="269.35" y="624.5" font-family='"Liberation Sans", sans-serif' font-size="9.8" font-weight="bold" text-anchor="middle" fill="#222" stroke="#222" stroke-width="0.22">**</text>
<polyline points="247.9,614 247.9,608.8 276.5,608.8 276.5,614" fill="none" stroke="#2a2a2a" stroke-width="1"/>
<text x="262.2" y="606.9" font-family='"Liberation Sans", sans-serif' font-size="9.8" font-weight="bold" text-anchor="middle" fill="#222" stroke="#222" stroke-width="0.22">**</text>
<text x="205.3" y="709.8" font-family='"Liberation Sans", sans-serif' font-size="8.0" font-weight="bold" text-anchor="start" fill="#111" stroke="#111" stroke-width="0.22" transform="rotate(-90 205.3 709.8)" textLength="99.3" lengthAdjust="spacingAndGlyphs">Relative SCD1 protein level</text>
<line x1="325.7" y1="614.1" x2="325.7" y2="706.8" stroke="#2a2a2a" stroke-width="1.1"/>
<line x1="325.2" y1="706.3" x2="386.8" y2="706.3" stroke="#2a2a2a" stroke-width="1.1"/>
<line x1="321.2" y1="706.3" x2="325.7" y2="706.3" stroke="#2a2a2a" stroke-width="1"/>
<text x="320.2" y="708.8" font-family='"Liberation Sans", sans-serif' font-size="7.0" font-weight="bold" text-anchor="end" fill="#222" stroke="#222" stroke-width="0.22">0.0</text>
<line x1="321.2" y1="675.6" x2="325.7" y2="675.6" stroke="#2a2a2a" stroke-width="1"/>
<text x="320.2" y="678.1" font-family='"Liberation Sans", sans-serif' font-size="7.0" font-weight="bold" text-anchor="end" fill="#222" stroke="#222" stroke-width="0.22">0.5</text>
<line x1="321.2" y1="644.9" x2="325.7" y2="644.9" stroke="#2a2a2a" stroke-width="1"/>
<text x="320.2" y="647.4" font-family='"Liberation Sans", sans-serif' font-size="7.0" font-weight="bold" text-anchor="end" fill="#222" stroke="#222" stroke-width="0.22">1.0</text>
<line x1="321.2" y1="614.2" x2="325.7" y2="614.2" stroke="#2a2a2a" stroke-width="1"/>
<text x="320.2" y="616.7" font-family='"Liberation Sans", sans-serif' font-size="7.0" font-weight="bold" text-anchor="end" fill="#222" stroke="#222" stroke-width="0.22">1.5</text>
<rect x="330.8" y="668.22" width="8.3" height="38.08" fill="#9b82c6" stroke="#2d2a72" stroke-width="1.2"/>
<circle cx="332.34" cy="666.18" r="1.1" fill="#6a3fc0"/>
<circle cx="336.07" cy="664.68" r="1.1" fill="#6a3fc0"/>
<circle cx="336.29" cy="661.8" r="1.1" fill="#6a3fc0"/>
<line x1="334.95" y1="664.7" x2="334.95" y2="667.62" stroke="#2d2a72" stroke-width="0.9"/>
<line x1="332.45" y1="664.7" x2="337.45" y2="664.7" stroke="#2d2a72" stroke-width="0.9"/>
<rect x="345.1" y="630.15" width="7.9" height="76.15" fill="#62c3ea" stroke="#3b55bb" stroke-width="1.2"/>
<circle cx="351.56" cy="632.34" r="1.1" fill="#3a4fb6"/>
<circle cx="351.59" cy="628.04" r="1.1" fill="#3a4fb6"/>
<circle cx="350.55" cy="629.38" r="1.1" fill="#3a4fb6"/>
<line x1="349.05" y1="627.28" x2="349.05" y2="629.55" stroke="#3b55bb" stroke-width="0.9"/>
<line x1="346.55" y1="627.28" x2="351.55" y2="627.28" stroke="#3b55bb" stroke-width="0.9"/>
<rect x="359.3" y="680.5" width="7.9" height="25.8" fill="#6fd5d1" stroke="#2a7b86" stroke-width="1.2"/>
<circle cx="363.91" cy="698.56" r="1.1" fill="#35a070"/>
<circle cx="364.99" cy="668.12" r="1.1" fill="#35a070"/>
<circle cx="362.95" cy="681.52" r="1.1" fill="#35a070"/>
<line x1="363.25" y1="673.33" x2="363.25" y2="679.9" stroke="#2a7b86" stroke-width="0.9"/>
<line x1="360.75" y1="673.33" x2="365.75" y2="673.33" stroke="#2a7b86" stroke-width="0.9"/>
<rect x="373.5" y="655.94" width="8.3" height="50.36" fill="#f09a86" stroke="#ea5530" stroke-width="1.2"/>
<circle cx="375.58" cy="653.03" r="1.1" fill="#e8552e"/>
<circle cx="376.69" cy="662.27" r="1.1" fill="#e8552e"/>
<circle cx="374.85" cy="648.96" r="1.1" fill="#e8552e"/>
<line x1="377.65" y1="651.99" x2="377.65" y2="655.34" stroke="#ea5530" stroke-width="0.9"/>
<line x1="375.15" y1="651.99" x2="380.15" y2="651.99" stroke="#ea5530" stroke-width="0.9"/>
<polyline points="334.95,658.8 334.95,617.5 349.05,617.5 349.05,624.28" fill="none" stroke="#2a2a2a" stroke-width="1"/>
<text x="342" y="615.6" font-family='"Liberation Sans", sans-serif' font-size="9.8" font-weight="bold" text-anchor="middle" fill="#222" stroke="#222" stroke-width="0.22">****</text>
<polyline points="363.25,665.12 363.25,617.5 377.65,617.5 377.65,645.96" fill="none" stroke="#2a2a2a" stroke-width="1"/>
<text x="370.45" y="615.6" font-family='"Liberation Sans", sans-serif' font-size="9.8" font-weight="bold" text-anchor="middle" fill="#222" stroke="#222" stroke-width="0.22">***</text>
<polyline points="349.05,605.5 349.05,600.4 377.65,600.4 377.65,605.5" fill="none" stroke="#2a2a2a" stroke-width="1"/>
<text x="363.35" y="598.5" font-family='"Liberation Sans", sans-serif' font-size="9.8" font-weight="bold" text-anchor="middle" fill="#222" stroke="#222" stroke-width="0.22">***</text>
<text x="305.8" y="712.4" font-family='"Liberation Sans", sans-serif' font-size="8.0" font-weight="bold" text-anchor="start" fill="#111" stroke="#111" stroke-width="0.22" transform="rotate(-90 305.8 712.4)" textLength="104.4" lengthAdjust="spacingAndGlyphs">Relative PPARγ protein level</text>
<rect x="394" y="617.7" width="9.2" height="4.6" fill="#9b82c6" stroke="#2d2a72" stroke-width="1.2"/>
<text x="408.6" y="622.8" font-family='"Liberation Sans", sans-serif' font-size="7.9" font-weight="normal" text-anchor="start" fill="#222" stroke="#222" stroke-width="0.22">GFP-CD</text>
<rect x="394" y="630.4" width="9.2" height="4.6" fill="#62c3ea" stroke="#3b55bb" stroke-width="1.2"/>
<text x="408.6" y="635.5" font-family='"Liberation Sans", sans-serif' font-size="7.9" font-weight="normal" text-anchor="start" fill="#222" stroke="#222" stroke-width="0.22">GFP-HFD</text>
<rect x="394" y="642.7" width="9.2" height="4.6" fill="#6fd5d1" stroke="#2a7b86" stroke-width="1.2"/>
<text x="408.6" y="647.8" font-family='"Liberation Sans", sans-serif' font-size="7.9" font-weight="normal" text-anchor="start" fill="#222" stroke="#222" stroke-width="0.22">TIA1-CD</text>
<rect x="394" y="655.1" width="9.2" height="4.6" fill="#f09a86" stroke="#ea5530" stroke-width="1.2"/>
<text x="408.6" y="660.2" font-family='"Liberation Sans", sans-serif' font-size="7.9" font-weight="normal" text-anchor="start" fill="#222" stroke="#222" stroke-width="0.22">TIA1-HFD</text>
<line x1="472.8" y1="430" x2="472.8" y2="522.7" stroke="#2a2a2a" stroke-width="1.1"/>
<line x1="472.3" y1="522.2" x2="647.9" y2="522.2" stroke="#2a2a2a" stroke-width="1.1"/>
<line x1="468.3" y1="522.2" x2="472.8" y2="522.2" stroke="#2a2a2a" stroke-width="1"/>
<text x="467.3" y="524.99" font-family='"Liberation Sans", sans-serif' font-size="7.8" font-weight="bold" text-anchor="end" fill="#222" stroke="#222" stroke-width="0.22">0</text>
<line x1="468.3" y1="491.47" x2="472.8" y2="491.47" stroke="#2a2a2a" stroke-width="1"/>
<text x="467.3" y="494.25" font-family='"Liberation Sans", sans-serif' font-size="7.8" font-weight="bold" text-anchor="end" fill="#222" stroke="#222" stroke-width="0.22">5</text>
<line x1="468.3" y1="460.73" x2="472.8" y2="460.73" stroke="#2a2a2a" stroke-width="1"/>
<text x="467.3" y="463.52" font-family='"Liberation Sans", sans-serif' font-size="7.8" font-weight="bold" text-anchor="end" fill="#222" stroke="#222" stroke-width="0.22">10</text>
<line x1="468.3" y1="430" x2="472.8" y2="430" stroke="#2a2a2a" stroke-width="1"/>
<text x="467.3" y="432.78" font-family='"Liberation Sans", sans-serif' font-size="7.8" font-weight="bold" text-anchor="end" fill="#222" stroke="#222" stroke-width="0.22">15</text>
<rect x="477" y="517.27" width="4.7" height="4.93" fill="#9b82c6" stroke="#2d2a72" stroke-width="1.2"/>
<circle cx="480.39" cy="517.14" r="0.9" fill="#6a3fc0"/>
<circle cx="480.92" cy="517.13" r="0.9" fill="#6a3fc0"/>
<circle cx="477.68" cy="516.72" r="0.9" fill="#6a3fc0"/>
<line x1="479.35" y1="515.24" x2="479.35" y2="516.67" stroke="#2d2a72" stroke-width="0.9"/>
<line x1="477.55" y1="515.24" x2="481.15" y2="515.24" stroke="#2d2a72" stroke-width="0.9"/>
<rect x="486.5" y="473.62" width="4.7" height="48.58" fill="#62c3ea" stroke="#3b55bb" stroke-width="1.2"/>
<circle cx="488.73" cy="481.01" r="0.9" fill="#3a4fb6"/>
<circle cx="490.27" cy="468.22" r="0.9" fill="#3a4fb6"/>
<circle cx="487.48" cy="474.81" r="0.9" fill="#3a4fb6"/>
<line x1="488.85" y1="469.76" x2="488.85" y2="473.02" stroke="#3b55bb" stroke-width="0.9"/>
<line x1="487.05" y1="469.76" x2="490.65" y2="469.76" stroke="#3b55bb" stroke-width="0.9"/>
<rect x="496" y="518.19" width="4.7" height="4.01" fill="#6fd5d1" stroke="#2a7b86" stroke-width="1.2"/>
<circle cx="498.5" cy="517.83" r="0.9" fill="#35a070"/>
<circle cx="498.61" cy="517.54" r="0.9" fill="#35a070"/>
<circle cx="497.57" cy="517.36" r="0.9" fill="#35a070"/>
<line x1="498.35" y1="516.2" x2="498.35" y2="517.59" stroke="#2a7b86" stroke-width="0.9"/>
<line x1="496.55" y1="516.2" x2="500.15" y2="516.2" stroke="#2a7b86" stroke-width="0.9"/>
<rect x="505.5" y="490.22" width="4.7" height="31.98" fill="#f09a86" stroke="#ea5530" stroke-width="1.2"/>
<circle cx="509.32" cy="489.49" r="0.9" fill="#e8552e"/>
<circle cx="508.9" cy="489.48" r="0.9" fill="#e8552e"/>
<circle cx="506.57" cy="491" r="0.9" fill="#e8552e"/>
<line x1="507.85" y1="487.05" x2="507.85" y2="489.62" stroke="#ea5530" stroke-width="0.9"/>
<line x1="506.05" y1="487.05" x2="509.65" y2="487.05" stroke="#ea5530" stroke-width="0.9"/>
<rect x="521.6" y="516.65" width="4.7" height="5.55" fill="#9b82c6" stroke="#2d2a72" stroke-width="1.2"/>
<circle cx="522.19" cy="516.22" r="0.9" fill="#6a3fc0"/>
<circle cx="525.26" cy="516.21" r="0.9" fill="#6a3fc0"/>
<circle cx="525.66" cy="515.98" r="0.9" fill="#6a3fc0"/>
<line x1="523.95" y1="514.59" x2="523.95" y2="516.05" stroke="#2d2a72" stroke-width="0.9"/>
<line x1="522.15" y1="514.59" x2="525.75" y2="514.59" stroke="#2d2a72" stroke-width="0.9"/>
<rect x="531.1" y="462.56" width="4.7" height="59.64" fill="#62c3ea" stroke="#3b55bb" stroke-width="1.2"/>
<circle cx="534.77" cy="459.04" r="0.9" fill="#3a4fb6"/>
<circle cx="533.59" cy="464.67" r="0.9" fill="#3a4fb6"/>
<circle cx="534.08" cy="451.23" r="0.9" fill="#3a4fb6"/>
<line x1="533.45" y1="458.23" x2="533.45" y2="461.96" stroke="#3b55bb" stroke-width="0.9"/>
<line x1="531.65" y1="458.23" x2="535.25" y2="458.23" stroke="#3b55bb" stroke-width="0.9"/>
<rect x="540.6" y="517.88" width="4.7" height="4.32" fill="#6fd5d1" stroke="#2a7b86" stroke-width="1.2"/>
<circle cx="543.62" cy="517.05" r="0.9" fill="#35a070"/>
<circle cx="544.6" cy="516.47" r="0.9" fill="#35a070"/>
<circle cx="542.46" cy="517.05" r="0.9" fill="#35a070"/>
<line x1="542.95" y1="515.88" x2="542.95" y2="517.28" stroke="#2a7b86" stroke-width="0.9"/>
<line x1="541.15" y1="515.88" x2="544.75" y2="515.88" stroke="#2a7b86" stroke-width="0.9"/>
<rect x="550.1" y="502.51" width="4.7" height="19.69" fill="#f09a86" stroke="#ea5530" stroke-width="1.2"/>
<circle cx="551.27" cy="502.68" r="0.9" fill="#e8552e"/>
<circle cx="551.75" cy="501.59" r="0.9" fill="#e8552e"/>
<circle cx="552.82" cy="501.49" r="0.9" fill="#e8552e"/>
<line x1="552.45" y1="499.86" x2="552.45" y2="501.91" stroke="#ea5530" stroke-width="0.9"/>
<line x1="550.65" y1="499.86" x2="554.25" y2="499.86" stroke="#ea5530" stroke-width="0.9"/>
<rect x="565.8" y="517.27" width="4.7" height="4.93" fill="#9b82c6" stroke="#2d2a72" stroke-width="1.2"/>
<circle cx="567.58" cy="516.07" r="0.9" fill="#6a3fc0"/>
<circle cx="567.48" cy="516.65" r="0.9" fill="#6a3fc0"/>
<circle cx="567.5" cy="516.48" r="0.9" fill="#6a3fc0"/>
<line x1="568.15" y1="515.24" x2="568.15" y2="516.67" stroke="#2d2a72" stroke-width="0.9"/>
<line x1="566.35" y1="515.24" x2="569.95" y2="515.24" stroke="#2d2a72" stroke-width="0.9"/>
<rect x="575.3" y="470.55" width="4.7" height="51.65" fill="#62c3ea" stroke="#3b55bb" stroke-width="1.2"/>
<circle cx="577.58" cy="473.86" r="0.9" fill="#3a4fb6"/>
<circle cx="579.33" cy="470.31" r="0.9" fill="#3a4fb6"/>
<circle cx="575.96" cy="471.19" r="0.9" fill="#3a4fb6"/>
<line x1="577.65" y1="466.56" x2="577.65" y2="469.95" stroke="#3b55bb" stroke-width="0.9"/>
<line x1="575.85" y1="466.56" x2="579.45" y2="466.56" stroke="#3b55bb" stroke-width="0.9"/>
<rect x="584.8" y="518.5" width="4.7" height="3.7" fill="#6fd5d1" stroke="#2a7b86" stroke-width="1.2"/>
<circle cx="585.44" cy="517.9" r="0.9" fill="#35a070"/>
<circle cx="588.17" cy="518.5" r="0.9" fill="#35a070"/>
<circle cx="585.41" cy="518.17" r="0.9" fill="#35a070"/>
<line x1="587.15" y1="516.52" x2="587.15" y2="517.9" stroke="#2a7b86" stroke-width="0.9"/>
<line x1="585.35" y1="516.52" x2="588.95" y2="516.52" stroke="#2a7b86" stroke-width="0.9"/>
<rect x="594.3" y="488.99" width="4.7" height="33.21" fill="#f09a86" stroke="#ea5530" stroke-width="1.2"/>
<circle cx="595.05" cy="486.01" r="0.9" fill="#e8552e"/>
<circle cx="595.58" cy="485.84" r="0.9" fill="#e8552e"/>
<circle cx="597.56" cy="482.89" r="0.9" fill="#e8552e"/>
<line x1="596.65" y1="485.77" x2="596.65" y2="488.39" stroke="#ea5530" stroke-width="0.9"/>
<line x1="594.85" y1="485.77" x2="598.45" y2="485.77" stroke="#ea5530" stroke-width="0.9"/>
<rect x="610.6" y="516.65" width="4.7" height="5.55" fill="#9b82c6" stroke="#2d2a72" stroke-width="1.2"/>
<circle cx="612.4" cy="515.1" r="0.9" fill="#6a3fc0"/>
<circle cx="612.44" cy="516.5" r="0.9" fill="#6a3fc0"/>
<circle cx="611.56" cy="516.81" r="0.9" fill="#6a3fc0"/>
<line x1="612.95" y1="514.59" x2="612.95" y2="516.05" stroke="#2d2a72" stroke-width="0.9"/>
<line x1="611.15" y1="514.59" x2="614.75" y2="514.59" stroke="#2d2a72" stroke-width="0.9"/>
<rect x="620.1" y="490.84" width="4.7" height="31.36" fill="#62c3ea" stroke="#3b55bb" stroke-width="1.2"/>
<circle cx="623.33" cy="490.85" r="0.9" fill="#3a4fb6"/>
<circle cx="620.81" cy="488.9" r="0.9" fill="#3a4fb6"/>
<circle cx="624.03" cy="494.6" r="0.9" fill="#3a4fb6"/>
<line x1="622.45" y1="487.69" x2="622.45" y2="490.24" stroke="#3b55bb" stroke-width="0.9"/>
<line x1="620.65" y1="487.69" x2="624.25" y2="487.69" stroke="#3b55bb" stroke-width="0.9"/>
<rect x="629.6" y="518.19" width="4.7" height="4.01" fill="#6fd5d1" stroke="#2a7b86" stroke-width="1.2"/>
<circle cx="632.34" cy="517.34" r="0.9" fill="#35a070"/>
<circle cx="633.43" cy="517.43" r="0.9" fill="#35a070"/>
<circle cx="632.11" cy="517.99" r="0.9" fill="#35a070"/>
<line x1="631.95" y1="516.2" x2="631.95" y2="517.59" stroke="#2a7b86" stroke-width="0.9"/>
<line x1="630.15" y1="516.2" x2="633.75" y2="516.2" stroke="#2a7b86" stroke-width="0.9"/>
<rect x="639.1" y="503.74" width="4.7" height="18.46" fill="#f09a86" stroke="#ea5530" stroke-width="1.2"/>
<circle cx="640.79" cy="500.51" r="0.9" fill="#e8552e"/>
<circle cx="639.96" cy="503.49" r="0.9" fill="#e8552e"/>
<circle cx="640.21" cy="502.36" r="0.9" fill="#e8552e"/>
<line x1="641.45" y1="501.14" x2="641.45" y2="503.14" stroke="#ea5530" stroke-width="0.9"/>
<line x1="639.65" y1="501.14" x2="643.25" y2="501.14" stroke="#ea5530" stroke-width="0.9"/>
<polyline points="488.85,465.22 488.85,455.3 507.85,455.3 507.85,484.05" fill="none" stroke="#2a2a2a" stroke-width="1"/>
<text x="498.35" y="453.4" font-family='"Liberation Sans", sans-serif' font-size="9.8" font-weight="bold" text-anchor="middle" fill="#222" stroke="#222" stroke-width="0.22">***</text>
<polyline points="533.45,448.23 533.45,449.6 552.45,449.6 552.45,496.86" fill="none" stroke="#2a2a2a" stroke-width="1"/>
<text x="542.95" y="447.7" font-family='"Liberation Sans", sans-serif' font-size="9.8" font-weight="bold" text-anchor="middle" fill="#222" stroke="#222" stroke-width="0.22">****</text>
<polyline points="577.65,463.56 577.65,449.6 596.65,449.6 596.65,479.89" fill="none" stroke="#2a2a2a" stroke-width="1"/>
<text x="587.15" y="447.7" font-family='"Liberation Sans", sans-serif' font-size="9.8" font-weight="bold" text-anchor="middle" fill="#222" stroke="#222" stroke-width="0.22">**</text>
<polyline points="622.45,484.69 622.45,476.2 641.45,476.2 641.45,497.51" fill="none" stroke="#2a2a2a" stroke-width="1"/>
<text x="631.95" y="474.3" font-family='"Liberation Sans", sans-serif' font-size="9.8" font-weight="bold" text-anchor="middle" fill="#222" stroke="#222" stroke-width="0.22">**</text>
<line x1="493.6" y1="522.2" x2="493.6" y2="525.2" stroke="#2a2a2a" stroke-width="1"/>
<text x="493.6" y="534" font-family='"Liberation Sans", sans-serif' font-size="7.1" font-weight="bold" text-anchor="middle" fill="#222" stroke="#222" stroke-width="0.22">Fasn</text>
<line x1="538.2" y1="522.2" x2="538.2" y2="525.2" stroke="#2a2a2a" stroke-width="1"/>
<text x="538.2" y="534" font-family='"Liberation Sans", sans-serif' font-size="7.1" font-weight="bold" text-anchor="middle" fill="#222" stroke="#222" stroke-width="0.22">Srebf1</text>
<line x1="582.4" y1="522.2" x2="582.4" y2="525.2" stroke="#2a2a2a" stroke-width="1"/>
<text x="582.4" y="534" font-family='"Liberation Sans", sans-serif' font-size="7.1" font-weight="bold" text-anchor="middle" fill="#222" stroke="#222" stroke-width="0.22">Scd1</text>
<line x1="627.2" y1="522.2" x2="627.2" y2="525.2" stroke="#2a2a2a" stroke-width="1"/>
<text x="627.2" y="534" font-family='"Liberation Sans", sans-serif' font-size="7.1" font-weight="bold" text-anchor="middle" fill="#222" stroke="#222" stroke-width="0.22">Pparg</text>
<text x="455.2" y="520.1" font-family='"Liberation Sans", sans-serif' font-size="9.6" font-weight="bold" text-anchor="start" fill="#111" stroke="#111" stroke-width="0.22" transform="rotate(-90 455.2 520.1)" textLength="89.1" lengthAdjust="spacingAndGlyphs">Relative mRNA level</text>
<line x1="484.2" y1="542.2" x2="640" y2="542.2" stroke="#444" stroke-width="0.9"/>
<text x="517" y="557" font-family='"Liberation Serif", serif' font-size="10.2" font-weight="bold" text-anchor="start" fill="#111" stroke="#111" stroke-width="0.22" textLength="96.7" lengthAdjust="spacingAndGlyphs">Fatty acid metabolism</text>
<line x1="478.3" y1="582" x2="478.3" y2="677" stroke="#2a2a2a" stroke-width="1.1"/>
<line x1="477.8" y1="676.5" x2="621.8" y2="676.5" stroke="#2a2a2a" stroke-width="1.1"/>
<line x1="473.8" y1="676.5" x2="478.3" y2="676.5" stroke="#2a2a2a" stroke-width="1"/>
<text x="472.8" y="679" font-family='"Liberation Sans", sans-serif' font-size="7.0" font-weight="bold" text-anchor="end" fill="#222" stroke="#222" stroke-width="0.22">0</text>
<line x1="473.8" y1="645" x2="478.3" y2="645" stroke="#2a2a2a" stroke-width="1"/>
<text x="472.8" y="647.5" font-family='"Liberation Sans", sans-serif' font-size="7.0" font-weight="bold" text-anchor="end" fill="#222" stroke="#222" stroke-width="0.22">2</text>
<line x1="473.8" y1="613.5" x2="478.3" y2="613.5" stroke="#2a2a2a" stroke-width="1"/>
<text x="472.8" y="616" font-family='"Liberation Sans", sans-serif' font-size="7.0" font-weight="bold" text-anchor="end" fill="#222" stroke="#222" stroke-width="0.22">4</text>
<line x1="473.8" y1="582" x2="478.3" y2="582" stroke="#2a2a2a" stroke-width="1"/>
<text x="472.8" y="584.5" font-family='"Liberation Sans", sans-serif' font-size="7.0" font-weight="bold" text-anchor="end" fill="#222" stroke="#222" stroke-width="0.22">6</text>
<rect x="482.8" y="661.35" width="5.3" height="15.15" fill="#9b82c6" stroke="#2d2a72" stroke-width="1.2"/>
<circle cx="484.13" cy="662.18" r="0.9" fill="#6a3fc0"/>
<circle cx="483.69" cy="664.31" r="0.9" fill="#6a3fc0"/>
<circle cx="485.08" cy="659.35" r="0.9" fill="#6a3fc0"/>
<line x1="485.45" y1="658.89" x2="485.45" y2="660.75" stroke="#2d2a72" stroke-width="0.9"/>
<line x1="483.65" y1="658.89" x2="487.25" y2="658.89" stroke="#2d2a72" stroke-width="0.9"/>
<rect x="493.4" y="630.64" width="5.3" height="45.86" fill="#62c3ea" stroke="#3b55bb" stroke-width="1.2"/>
<circle cx="495.03" cy="630.38" r="0.9" fill="#3a4fb6"/>
<circle cx="495.88" cy="635.24" r="0.9" fill="#3a4fb6"/>
<circle cx="495.74" cy="633.52" r="0.9" fill="#3a4fb6"/>
<line x1="496.05" y1="626.89" x2="496.05" y2="630.04" stroke="#3b55bb" stroke-width="0.9"/>
<line x1="494.25" y1="626.89" x2="497.85" y2="626.89" stroke="#3b55bb" stroke-width="0.9"/>
<rect x="504" y="666.08" width="5.3" height="10.42" fill="#6fd5d1" stroke="#2a7b86" stroke-width="1.2"/>
<circle cx="504.83" cy="663.82" r="0.9" fill="#35a070"/>
<circle cx="506.62" cy="664.87" r="0.9" fill="#35a070"/>
<circle cx="507.55" cy="665.25" r="0.9" fill="#35a070"/>
<line x1="506.65" y1="663.81" x2="506.65" y2="665.48" stroke="#2a7b86" stroke-width="0.9"/>
<line x1="504.85" y1="663.81" x2="508.45" y2="663.81" stroke="#2a7b86" stroke-width="0.9"/>
<rect x="514.6" y="643.24" width="5.3" height="33.26" fill="#f09a86" stroke="#ea5530" stroke-width="1.2"/>
<circle cx="519" cy="643.73" r="0.9" fill="#e8552e"/>
<circle cx="515.72" cy="645.57" r="0.9" fill="#e8552e"/>
<circle cx="516.99" cy="645.78" r="0.9" fill="#e8552e"/>
<line x1="517.25" y1="640.02" x2="517.25" y2="642.64" stroke="#ea5530" stroke-width="0.9"/>
<line x1="515.45" y1="640.02" x2="519.05" y2="640.02" stroke="#ea5530" stroke-width="0.9"/>
<rect x="531.4" y="660.56" width="5.3" height="15.94" fill="#9b82c6" stroke="#2d2a72" stroke-width="1.2"/>
<circle cx="533.25" cy="658.6" r="0.9" fill="#6a3fc0"/>
<circle cx="533.87" cy="658.11" r="0.9" fill="#6a3fc0"/>
<circle cx="535.91" cy="657.63" r="0.9" fill="#6a3fc0"/>
<line x1="534.05" y1="658.07" x2="534.05" y2="659.96" stroke="#2d2a72" stroke-width="0.9"/>
<line x1="532.25" y1="658.07" x2="535.85" y2="658.07" stroke="#2d2a72" stroke-width="0.9"/>
<rect x="542" y="592.05" width="5.3" height="84.45" fill="#62c3ea" stroke="#3b55bb" stroke-width="1.2"/>
<circle cx="544.47" cy="591.5" r="0.9" fill="#3a4fb6"/>
<circle cx="544.57" cy="601.33" r="0.9" fill="#3a4fb6"/>
<circle cx="543.83" cy="590.71" r="0.9" fill="#3a4fb6"/>
<line x1="544.65" y1="586.68" x2="544.65" y2="591.45" stroke="#3b55bb" stroke-width="0.9"/>
<line x1="542.85" y1="586.68" x2="546.45" y2="586.68" stroke="#3b55bb" stroke-width="0.9"/>
<rect x="552.6" y="665.29" width="5.3" height="11.21" fill="#6fd5d1" stroke="#2a7b86" stroke-width="1.2"/>
<circle cx="554.77" cy="665.08" r="0.9" fill="#35a070"/>
<circle cx="557.15" cy="664.42" r="0.9" fill="#35a070"/>
<circle cx="555.25" cy="663.53" r="0.9" fill="#35a070"/>
<line x1="555.25" y1="662.99" x2="555.25" y2="664.69" stroke="#2a7b86" stroke-width="0.9"/>
<line x1="553.45" y1="662.99" x2="557.05" y2="662.99" stroke="#2a7b86" stroke-width="0.9"/>
<rect x="563.2" y="643.24" width="5.3" height="33.26" fill="#f09a86" stroke="#ea5530" stroke-width="1.2"/>
<circle cx="565.22" cy="643.49" r="0.9" fill="#e8552e"/>
<circle cx="566.95" cy="640.99" r="0.9" fill="#e8552e"/>
<circle cx="567.28" cy="641.6" r="0.9" fill="#e8552e"/>
<line x1="565.85" y1="640.02" x2="565.85" y2="642.64" stroke="#ea5530" stroke-width="0.9"/>
<line x1="564.05" y1="640.02" x2="567.65" y2="640.02" stroke="#ea5530" stroke-width="0.9"/>
<rect x="580.1" y="661.35" width="5.3" height="15.15" fill="#9b82c6" stroke="#2d2a72" stroke-width="1.2"/>
<circle cx="583.82" cy="662.03" r="0.9" fill="#6a3fc0"/>
<circle cx="583.51" cy="659.23" r="0.9" fill="#6a3fc0"/>
<circle cx="582.22" cy="661.73" r="0.9" fill="#6a3fc0"/>
<line x1="582.75" y1="658.89" x2="582.75" y2="660.75" stroke="#2d2a72" stroke-width="0.9"/>
<line x1="580.95" y1="658.89" x2="584.55" y2="658.89" stroke="#2d2a72" stroke-width="0.9"/>
<rect x="590.7" y="591.26" width="5.3" height="85.24" fill="#62c3ea" stroke="#3b55bb" stroke-width="1.2"/>
<circle cx="594.15" cy="599.61" r="0.9" fill="#3a4fb6"/>
<circle cx="594.4" cy="592.04" r="0.9" fill="#3a4fb6"/>
<circle cx="594.09" cy="583.67" r="0.9" fill="#3a4fb6"/>
<line x1="593.35" y1="585.86" x2="593.35" y2="590.66" stroke="#3b55bb" stroke-width="0.9"/>
<line x1="591.55" y1="585.86" x2="595.15" y2="585.86" stroke="#3b55bb" stroke-width="0.9"/>
<rect x="601.3" y="663.71" width="5.3" height="12.79" fill="#6fd5d1" stroke="#2a7b86" stroke-width="1.2"/>
<circle cx="604.53" cy="663.75" r="0.9" fill="#35a070"/>
<circle cx="604.26" cy="660.87" r="0.9" fill="#35a070"/>
<circle cx="602.98" cy="661.9" r="0.9" fill="#35a070"/>
<line x1="603.95" y1="661.35" x2="603.95" y2="663.11" stroke="#2a7b86" stroke-width="0.9"/>
<line x1="602.15" y1="661.35" x2="605.75" y2="661.35" stroke="#2a7b86" stroke-width="0.9"/>
<rect x="611.9" y="642.45" width="5.3" height="34.05" fill="#f09a86" stroke="#ea5530" stroke-width="1.2"/>
<circle cx="615.22" cy="641.62" r="0.9" fill="#e8552e"/>
<circle cx="615.13" cy="646.32" r="0.9" fill="#e8552e"/>
<circle cx="615.71" cy="640.79" r="0.9" fill="#e8552e"/>
<line x1="614.55" y1="639.19" x2="614.55" y2="641.85" stroke="#ea5530" stroke-width="0.9"/>
<line x1="612.75" y1="639.19" x2="616.35" y2="639.19" stroke="#ea5530" stroke-width="0.9"/>
<polyline points="496.05,623.89 496.05,613.3 517.25,613.3 517.25,637.02" fill="none" stroke="#2a2a2a" stroke-width="1"/>
<text x="506.65" y="611.4" font-family='"Liberation Sans", sans-serif' font-size="9.8" font-weight="bold" text-anchor="middle" fill="#222" stroke="#222" stroke-width="0.22">**</text>
<polyline points="544.65,583.68 544.65,576 565.85,576 565.85,637.02" fill="none" stroke="#2a2a2a" stroke-width="1"/>
<text x="555.25" y="574.1" font-family='"Liberation Sans", sans-serif' font-size="9.8" font-weight="bold" text-anchor="middle" fill="#222" stroke="#222" stroke-width="0.22">****</text>
<polyline points="593.35,580.67 593.35,576 614.55,576 614.55,636.19" fill="none" stroke="#2a2a2a" stroke-width="1"/>
<text x="603.95" y="574.1" font-family='"Liberation Sans", sans-serif' font-size="9.8" font-weight="bold" text-anchor="middle" fill="#222" stroke="#222" stroke-width="0.22">****</text>
<line x1="501.35" y1="676.5" x2="501.35" y2="679.5" stroke="#2a2a2a" stroke-width="1"/>
<text x="501.35" y="688.5" font-family='"Liberation Sans", sans-serif' font-size="7.1" font-weight="bold" text-anchor="middle" fill="#222" stroke="#222" stroke-width="0.22">Il6</text>
<line x1="549.95" y1="676.5" x2="549.95" y2="679.5" stroke="#2a2a2a" stroke-width="1"/>
<text x="549.95" y="688.5" font-family='"Liberation Sans", sans-serif' font-size="7.1" font-weight="bold" text-anchor="middle" fill="#222" stroke="#222" stroke-width="0.22">Il1β</text>
<line x1="598.65" y1="676.5" x2="598.65" y2="679.5" stroke="#2a2a2a" stroke-width="1"/>
<text x="598.65" y="688.5" font-family='"Liberation Sans", sans-serif' font-size="7.1" font-weight="bold" text-anchor="middle" fill="#222" stroke="#222" stroke-width="0.22">Tnfα</text>
<text x="464.7" y="672.3" font-family='"Liberation Sans", sans-serif' font-size="9.4" font-weight="bold" text-anchor="start" fill="#111" stroke="#111" stroke-width="0.22" transform="rotate(-90 464.7 672.3)" textLength="87.3" lengthAdjust="spacingAndGlyphs">Relative mRNA level</text>
<line x1="501.6" y1="694.4" x2="614.8" y2="694.4" stroke="#444" stroke-width="0.9"/>
<text x="530.4" y="708.8" font-family='"Liberation Serif", serif' font-size="10.1" font-weight="bold" text-anchor="start" fill="#111" stroke="#111" stroke-width="0.22" textLength="59.2" lengthAdjust="spacingAndGlyphs">Inflammation</text>
<rect x="627.8" y="585.5" width="9.2" height="4.6" fill="#9b82c6" stroke="#2d2a72" stroke-width="1.2"/>
<text x="643" y="590.6" font-family='"Liberation Sans", sans-serif' font-size="7.9" font-weight="normal" text-anchor="start" fill="#222" stroke="#222" stroke-width="0.22">GFP-CD</text>
<rect x="627.8" y="598.3" width="9.2" height="4.6" fill="#62c3ea" stroke="#3b55bb" stroke-width="1.2"/>
<text x="643" y="603.4" font-family='"Liberation Sans", sans-serif' font-size="7.9" font-weight="normal" text-anchor="start" fill="#222" stroke="#222" stroke-width="0.22">GFP-HFD</text>
<rect x="627.8" y="611.1" width="9.2" height="4.6" fill="#6fd5d1" stroke="#2a7b86" stroke-width="1.2"/>
<text x="643" y="616.2" font-family='"Liberation Sans", sans-serif' font-size="7.9" font-weight="normal" text-anchor="start" fill="#222" stroke="#222" stroke-width="0.22">TIA1-CD</text>
<rect x="627.8" y="623.9" width="9.2" height="4.6" fill="#f09a86" stroke="#ea5530" stroke-width="1.2"/>
<text x="643" y="629" font-family='"Liberation Sans", sans-serif' font-size="7.9" font-weight="normal" text-anchor="start" fill="#222" stroke="#222" stroke-width="0.22">TIA1-HFD</text>
<text x="52" y="37.3" font-family='"Liberation Serif", serif' font-size="9.2" font-weight="bold" text-anchor="start" fill="#111" stroke="#111" stroke-width="0.22" textLength="20" lengthAdjust="spacingAndGlyphs">Heart</text>
<text x="90" y="37.3" font-family='"Liberation Serif", serif' font-size="9.2" font-weight="bold" text-anchor="start" fill="#111" stroke="#111" stroke-width="0.22" textLength="18.6" lengthAdjust="spacingAndGlyphs">Liver</text>
<text x="120.2" y="24.2" font-family='"Liberation Serif", serif' font-size="9.2" font-weight="bold" text-anchor="start" fill="#111" stroke="#111" stroke-width="0.22" textLength="27.6" lengthAdjust="spacingAndGlyphs">Skeletal</text>
<text x="121.6" y="38.9" font-family='"Liberation Serif", serif' font-size="9.2" font-weight="bold" text-anchor="start" fill="#111" stroke="#111" stroke-width="0.22" textLength="24.1" lengthAdjust="spacingAndGlyphs">muscle</text>
<text x="165.2" y="24.2" font-family='"Liberation Serif", serif' font-size="9.2" font-weight="bold" text-anchor="start" fill="#111" stroke="#111" stroke-width="0.22" textLength="21" lengthAdjust="spacingAndGlyphs">White</text>
<text x="162.6" y="38.9" font-family='"Liberation Serif", serif' font-size="9.2" font-weight="bold" text-anchor="start" fill="#111" stroke="#111" stroke-width="0.22" textLength="26.2" lengthAdjust="spacingAndGlyphs">adipose</text>
<line x1="44" y1="42" x2="76.6" y2="42" stroke="#333" stroke-width="1.1"/>
<line x1="80.6" y1="42" x2="113" y2="42" stroke="#333" stroke-width="1.1"/>
<line x1="119.9" y1="42" x2="152" y2="42" stroke="#333" stroke-width="1.1"/>
<line x1="158" y1="42" x2="190.4" y2="42" stroke="#333" stroke-width="1.1"/>
<text x="44.3" y="53.6" font-family='"Liberation Serif", serif' font-size="7.2" font-weight="bold" text-anchor="start" fill="#111" stroke="#111" stroke-width="0.22" textLength="13.5" lengthAdjust="spacingAndGlyphs">GFP</text>
<text x="64" y="53.6" font-family='"Liberation Serif", serif' font-size="7.2" font-weight="bold" text-anchor="start" fill="#111" stroke="#111" stroke-width="0.22" textLength="15" lengthAdjust="spacingAndGlyphs">TIA1</text>
<text x="85.8" y="53.6" font-family='"Liberation Serif", serif' font-size="7.2" font-weight="bold" text-anchor="start" fill="#111" stroke="#111" stroke-width="0.22" textLength="13.2" lengthAdjust="spacingAndGlyphs">GFP</text>
<text x="102.5" y="53.6" font-family='"Liberation Serif", serif' font-size="7.2" font-weight="bold" text-anchor="start" fill="#111" stroke="#111" stroke-width="0.22" textLength="14" lengthAdjust="spacingAndGlyphs">TIA1</text>
<text x="121.8" y="53.6" font-family='"Liberation Serif", serif' font-size="7.2" font-weight="bold" text-anchor="start" fill="#111" stroke="#111" stroke-width="0.22" textLength="13.2" lengthAdjust="spacingAndGlyphs">GFP</text>
<text x="138.6" y="53.6" font-family='"Liberation Serif", serif' font-size="7.2" font-weight="bold" text-anchor="start" fill="#111" stroke="#111" stroke-width="0.22" textLength="14.1" lengthAdjust="spacingAndGlyphs">TIA1</text>
<text x="158.9" y="53.6" font-family='"Liberation Serif", serif' font-size="7.2" font-weight="bold" text-anchor="start" fill="#111" stroke="#111" stroke-width="0.22" textLength="12.9" lengthAdjust="spacingAndGlyphs">GFP</text>
<text x="177.7" y="53.6" font-family='"Liberation Serif", serif' font-size="7.2" font-weight="bold" text-anchor="start" fill="#111" stroke="#111" stroke-width="0.22" textLength="14" lengthAdjust="spacingAndGlyphs">TIA1</text>
<rect x="41.3" y="57.2" width="152.5" height="17.3" fill="#a6acd2"/>
<rect x="42.3" y="70.5" width="150.5" height="3" fill="#c6cae6" opacity="0.7" filter="url(#bb)"/>
<rect x="42.3" y="58.2" width="150.5" height="2" fill="#9aa0c8" opacity="0.6" filter="url(#bb)"/>
<ellipse cx="50.8" cy="66.35" rx="8" ry="3.99" fill="#3a3e70" opacity="0.11" filter="url(#bb2)"/>
<rect x="44.3" y="64.36" width="13" height="3.98" rx="1.99" fill="#06060f" opacity="0.63" filter="url(#bb)"/>
<ellipse cx="69.4" cy="66.35" rx="8" ry="3.83" fill="#3a3e70" opacity="0.09" filter="url(#bb2)"/>
<rect x="62.9" y="64.52" width="13" height="3.66" rx="1.83" fill="#06060f" opacity="0.53" filter="url(#bb)"/>
<ellipse cx="87.6" cy="66.35" rx="8" ry="4.25" fill="#3a3e70" opacity="0.12" filter="url(#bb2)"/>
<rect x="81.1" y="64.1" width="13" height="4.5" rx="2.25" fill="#06060f" opacity="0.68" filter="url(#bb)"/>
<ellipse cx="106.5" cy="66.35" rx="9" ry="6.09" fill="#3a3e70" opacity="0.18" filter="url(#bb2)"/>
<rect x="99" y="62.26" width="15" height="8.18" rx="4.09" fill="#06060f" opacity="1" filter="url(#bb)"/>
<ellipse cx="124.6" cy="66.35" rx="8" ry="3.73" fill="#3a3e70" opacity="0.05" filter="url(#bb2)"/>
<rect x="118.1" y="64.62" width="13" height="3.45" rx="1.73" fill="#06060f" opacity="0.32" filter="url(#bb)"/>
<ellipse cx="143.5" cy="66.35" rx="7.5" ry="3.73" fill="#3a3e70" opacity="0.06" filter="url(#bb2)"/>
<rect x="137.5" y="64.62" width="12" height="3.45" rx="1.73" fill="#06060f" opacity="0.37" filter="url(#bb)"/>
<ellipse cx="164.5" cy="66.35" rx="8" ry="4.51" fill="#3a3e70" opacity="0.15" filter="url(#bb2)"/>
<rect x="158" y="63.84" width="13" height="5.03" rx="2.51" fill="#06060f" opacity="0.89" filter="url(#bb)"/>
<ellipse cx="182.2" cy="66.35" rx="9" ry="5.04" fill="#3a3e70" opacity="0.18" filter="url(#bb2)"/>
<rect x="174.7" y="63.31" width="15" height="6.08" rx="3.04" fill="#06060f" opacity="1" filter="url(#bb)"/>
<rect x="41.3" y="57.2" width="152.5" height="17.3" fill="none" stroke="#26262e" stroke-width="1"/>
<rect x="40.5" y="84.3" width="153.3" height="21.5" fill="#a6acd2"/>
<rect x="41.5" y="101.8" width="151.3" height="3" fill="#c6cae6" opacity="0.7" filter="url(#bb)"/>
<rect x="41.5" y="85.3" width="151.3" height="2" fill="#9aa0c8" opacity="0.6" filter="url(#bb)"/>
<ellipse cx="50.8" cy="95.05" rx="9" ry="5.83" fill="#3a3e70" opacity="0.18" filter="url(#bb2)"/>
<rect x="43.3" y="91.22" width="15" height="7.65" rx="3.83" fill="#06060f" opacity="1" filter="url(#bb)"/>
<ellipse cx="69.4" cy="95.05" rx="9" ry="5.83" fill="#3a3e70" opacity="0.18" filter="url(#bb2)"/>
<rect x="61.9" y="91.22" width="15" height="7.65" rx="3.83" fill="#06060f" opacity="1" filter="url(#bb)"/>
<ellipse cx="87.6" cy="95.05" rx="8" ry="5.56" fill="#3a3e70" opacity="0.18" filter="url(#bb2)"/>
<rect x="81.1" y="91.49" width="13" height="7.12" rx="3.56" fill="#06060f" opacity="1" filter="url(#bb)"/>
<ellipse cx="106.5" cy="96.05" rx="9" ry="6.09" fill="#3a3e70" opacity="0.18" filter="url(#bb2)"/>
<rect x="99" y="91.96" width="15" height="8.18" rx="4.09" fill="#06060f" opacity="1" filter="url(#bb)"/>
<ellipse cx="124.6" cy="96.05" rx="9" ry="6.35" fill="#3a3e70" opacity="0.18" filter="url(#bb2)"/>
<rect x="117.1" y="91.7" width="15" height="8.7" rx="4.35" fill="#06060f" opacity="1" filter="url(#bb)"/>
<ellipse cx="143.5" cy="94.05" rx="9" ry="4.78" fill="#3a3e70" opacity="0.15" filter="url(#bb2)"/>
<rect x="136" y="91.27" width="15" height="5.55" rx="2.77" fill="#06060f" opacity="0.89" filter="url(#bb)"/>
<ellipse cx="164.5" cy="93.55" rx="9" ry="5.56" fill="#3a3e70" opacity="0.18" filter="url(#bb2)"/>
<rect x="157" y="89.99" width="15" height="7.12" rx="3.56" fill="#06060f" opacity="1" filter="url(#bb)"/>
<ellipse cx="182.2" cy="94.05" rx="9" ry="5.56" fill="#3a3e70" opacity="0.18" filter="url(#bb2)"/>
<rect x="174.7" y="90.49" width="15" height="7.12" rx="3.56" fill="#06060f" opacity="1" filter="url(#bb)"/>
<rect x="40.5" y="84.3" width="153.3" height="21.5" fill="none" stroke="#26262e" stroke-width="1"/>
<text x="18.2" y="69.9" font-family='"Liberation Serif", serif' font-size="9.2" font-weight="bold" text-anchor="start" fill="#111" stroke="#111" stroke-width="0.22" textLength="18.1" lengthAdjust="spacingAndGlyphs">TIA1</text>
<text x="6.8" y="96.9" font-family='"Liberation Serif", serif' font-size="8.6" font-weight="bold" text-anchor="start" fill="#111" stroke="#111" stroke-width="0.22" textLength="29.3" lengthAdjust="spacingAndGlyphs">GAPDH</text>
<text x="199.1" y="69.7" font-family='"Liberation Serif", serif' font-size="8.4" font-weight="bold" text-anchor="start" fill="#111" stroke="#111" stroke-width="0.22" textLength="24.5" lengthAdjust="spacingAndGlyphs">43KDa</text>
<text x="199.3" y="96.7" font-family='"Liberation Serif", serif' font-size="8.4" font-weight="bold" text-anchor="start" fill="#111" stroke="#111" stroke-width="0.22" textLength="24.7" lengthAdjust="spacingAndGlyphs">36KDa</text>
<text x="48.1" y="521" font-family='"Liberation Serif", serif' font-size="9.1" font-weight="bold" text-anchor="start" fill="#111" stroke="#111" stroke-width="0.22" textLength="40.2" lengthAdjust="spacing">AAV-GFP</text>
<text x="103.7" y="521" font-family='"Liberation Serif", serif' font-size="9.1" font-weight="bold" text-anchor="start" fill="#111" stroke="#111" stroke-width="0.22" textLength="42.2" lengthAdjust="spacing">AAV-TIA1</text>
<line x1="43.8" y1="525.1" x2="90.7" y2="525.1" stroke="#333" stroke-width="1.2"/>
<line x1="99.4" y1="525.1" x2="146.2" y2="525.1" stroke="#333" stroke-width="1.2"/>
<text x="46.9" y="534.7" font-family='"Liberation Serif", serif' font-size="8.9" font-weight="bold" text-anchor="start" fill="#111" stroke="#111" stroke-width="0.22" textLength="12.6" lengthAdjust="spacingAndGlyphs">CD</text>
<text x="71.8" y="534.7" font-family='"Liberation Serif", serif' font-size="8.9" font-weight="bold" text-anchor="start" fill="#111" stroke="#111" stroke-width="0.22" textLength="18.9" lengthAdjust="spacingAndGlyphs">HFD</text>
<text x="103.3" y="534.7" font-family='"Liberation Serif", serif' font-size="8.9" font-weight="bold" text-anchor="start" fill="#111" stroke="#111" stroke-width="0.22" textLength="12.6" lengthAdjust="spacingAndGlyphs">CD</text>
<text x="127.5" y="534.7" font-family='"Liberation Serif", serif' font-size="8.9" font-weight="bold" text-anchor="start" fill="#111" stroke="#111" stroke-width="0.22" textLength="18.7" lengthAdjust="spacingAndGlyphs">HFD</text>
<line x1="42.9" y1="539.2" x2="63.4" y2="539.2" stroke="#333" stroke-width="1.2"/>
<line x1="71.4" y1="539.2" x2="91.4" y2="539.2" stroke="#333" stroke-width="1.2"/>
<line x1="99.4" y1="539.2" x2="119.1" y2="539.2" stroke="#333" stroke-width="1.2"/>
<line x1="127" y1="539.2" x2="146.7" y2="539.2" stroke="#333" stroke-width="1.2"/>
<rect x="37.6" y="544.3" width="113.9" height="13.5" fill="#a6acd2"/>
<rect x="38.6" y="553.8" width="111.9" height="3" fill="#c6cae6" opacity="0.7" filter="url(#bb)"/>
<rect x="38.6" y="545.3" width="111.9" height="2" fill="#9aa0c8" opacity="0.6" filter="url(#bb)"/>
<ellipse cx="47.5" cy="551.55" rx="7.5" ry="3.99" fill="#3a3e70" opacity="0.18" filter="url(#bb2)"/>
<rect x="41.5" y="549.56" width="12" height="3.98" rx="1.99" fill="#06060f" opacity="1" filter="url(#bb)"/>
<ellipse cx="60.4" cy="551.05" rx="6.8" ry="3.99" fill="#3a3e70" opacity="0.18" filter="url(#bb2)"/>
<rect x="55.1" y="549.06" width="10.6" height="3.98" rx="1.99" fill="#06060f" opacity="1" filter="url(#bb)"/>
<ellipse cx="75.6" cy="552.05" rx="8.5" ry="5.83" fill="#3a3e70" opacity="0.18" filter="url(#bb2)"/>
<rect x="68.6" y="548.22" width="14" height="7.65" rx="3.83" fill="#06060f" opacity="1" filter="url(#bb)"/>
<ellipse cx="89.6" cy="551.05" rx="6.8" ry="4.51" fill="#3a3e70" opacity="0.18" filter="url(#bb2)"/>
<rect x="84.3" y="548.54" width="10.6" height="5.03" rx="2.51" fill="#06060f" opacity="1" filter="url(#bb)"/>
<ellipse cx="102.9" cy="551.05" rx="6.8" ry="3.52" fill="#3a3e70" opacity="0.14" filter="url(#bb2)"/>
<rect x="97.6" y="549.53" width="10.6" height="3.03" rx="1.52" fill="#06060f" opacity="0.79" filter="url(#bb)"/>
<ellipse cx="116.4" cy="551.05" rx="6.8" ry="3.73" fill="#3a3e70" opacity="0.16" filter="url(#bb2)"/>
<rect x="111.1" y="549.32" width="10.6" height="3.45" rx="1.73" fill="#06060f" opacity="0.95" filter="url(#bb)"/>
<ellipse cx="130.5" cy="551.05" rx="6.8" ry="4.78" fill="#3a3e70" opacity="0.18" filter="url(#bb2)"/>
<rect x="125.2" y="548.27" width="10.6" height="5.55" rx="2.77" fill="#06060f" opacity="1" filter="url(#bb)"/>
<ellipse cx="143.3" cy="551.05" rx="6.8" ry="4.78" fill="#3a3e70" opacity="0.18" filter="url(#bb2)"/>
<rect x="138" y="548.27" width="10.6" height="5.55" rx="2.77" fill="#06060f" opacity="1" filter="url(#bb)"/>
<rect x="37.6" y="544.3" width="113.9" height="13.5" fill="none" stroke="#26262e" stroke-width="1"/>
<text x="9.8" y="554.25" font-family='"Liberation Serif", serif' font-size="9.0" font-weight="bold" text-anchor="start" fill="#111" stroke="#111" stroke-width="0.22" textLength="23.4" lengthAdjust="spacingAndGlyphs">FASN</text>
<text x="155.7" y="554.25" font-family='"Liberation Serif", serif' font-size="8.6" font-weight="bold" text-anchor="start" fill="#111" stroke="#111" stroke-width="0.22" textLength="30.8" lengthAdjust="spacingAndGlyphs">273KDa</text>
<rect x="37.6" y="567.6" width="113.9" height="13.8" fill="#a6acd2"/>
<rect x="38.6" y="577.4" width="111.9" height="3" fill="#c6cae6" opacity="0.7" filter="url(#bb)"/>
<rect x="38.6" y="568.6" width="111.9" height="2" fill="#9aa0c8" opacity="0.6" filter="url(#bb)"/>
<ellipse cx="47.5" cy="574.5" rx="6.8" ry="3.99" fill="#3a3e70" opacity="0.17" filter="url(#bb2)"/>
<rect x="42.2" y="572.51" width="10.6" height="3.98" rx="1.99" fill="#06060f" opacity="1" filter="url(#bb)"/>
<ellipse cx="60.4" cy="574.5" rx="6.8" ry="4.78" fill="#3a3e70" opacity="0.18" filter="url(#bb2)"/>
<rect x="55.1" y="571.73" width="10.6" height="5.55" rx="2.77" fill="#06060f" opacity="1" filter="url(#bb)"/>
<ellipse cx="75.6" cy="574.5" rx="8.5" ry="5.83" fill="#3a3e70" opacity="0.18" filter="url(#bb2)"/>
<rect x="68.6" y="570.67" width="14" height="7.65" rx="3.83" fill="#06060f" opacity="1" filter="url(#bb)"/>
<ellipse cx="89.6" cy="574.5" rx="8.5" ry="5.83" fill="#3a3e70" opacity="0.18" filter="url(#bb2)"/>
<rect x="82.6" y="570.67" width="14" height="7.65" rx="3.83" fill="#06060f" opacity="1" filter="url(#bb)"/>
<ellipse cx="102.9" cy="574.5" rx="6.8" ry="3.99" fill="#3a3e70" opacity="0.15" filter="url(#bb2)"/>
<rect x="97.6" y="572.51" width="10.6" height="3.98" rx="1.99" fill="#06060f" opacity="0.89" filter="url(#bb)"/>
<ellipse cx="116.4" cy="574.5" rx="6.8" ry="3.62" fill="#3a3e70" opacity="0.11" filter="url(#bb2)"/>
<rect x="111.1" y="572.88" width="10.6" height="3.24" rx="1.62" fill="#06060f" opacity="0.63" filter="url(#bb)"/>
<ellipse cx="130.5" cy="574.5" rx="6.8" ry="3.99" fill="#3a3e70" opacity="0.16" filter="url(#bb2)"/>
<rect x="125.2" y="572.51" width="10.6" height="3.98" rx="1.99" fill="#06060f" opacity="0.95" filter="url(#bb)"/>
<ellipse cx="143.3" cy="574.5" rx="6.8" ry="3.83" fill="#3a3e70" opacity="0.15" filter="url(#bb2)"/>
<rect x="138" y="572.67" width="10.6" height="3.66" rx="1.83" fill="#06060f" opacity="0.89" filter="url(#bb)"/>
<rect x="37.6" y="567.6" width="113.9" height="13.8" fill="none" stroke="#26262e" stroke-width="1"/>
<text x="0.3" y="577.7" font-family='"Liberation Serif", serif' font-size="9.0" font-weight="bold" text-anchor="start" fill="#111" stroke="#111" stroke-width="0.22" textLength="32.9" lengthAdjust="spacingAndGlyphs">SREBP1</text>
<text x="155.7" y="577.7" font-family='"Liberation Serif", serif' font-size="8.6" font-weight="bold" text-anchor="start" fill="#111" stroke="#111" stroke-width="0.22" textLength="30.8" lengthAdjust="spacingAndGlyphs">122KDa</text>
<rect x="37.6" y="588.8" width="113.9" height="13.4" fill="#a6acd2"/>
<rect x="38.6" y="598.2" width="111.9" height="3" fill="#c6cae6" opacity="0.7" filter="url(#bb)"/>
<rect x="38.6" y="589.8" width="111.9" height="2" fill="#9aa0c8" opacity="0.6" filter="url(#bb)"/>
<ellipse cx="47.5" cy="595.5" rx="6.8" ry="3.52" fill="#3a3e70" opacity="0.13" filter="url(#bb2)"/>
<rect x="42.2" y="593.99" width="10.6" height="3.03" rx="1.52" fill="#06060f" opacity="0.73" filter="url(#bb)"/>
<ellipse cx="60.4" cy="595.5" rx="6.8" ry="3.73" fill="#3a3e70" opacity="0.15" filter="url(#bb2)"/>
<rect x="55.1" y="593.77" width="10.6" height="3.45" rx="1.73" fill="#06060f" opacity="0.89" filter="url(#bb)"/>
<ellipse cx="75.6" cy="595.5" rx="8" ry="4.78" fill="#3a3e70" opacity="0.18" filter="url(#bb2)"/>
<rect x="69.1" y="592.73" width="13" height="5.55" rx="2.77" fill="#06060f" opacity="1" filter="url(#bb)"/>
<ellipse cx="89.6" cy="595.5" rx="8" ry="4.78" fill="#3a3e70" opacity="0.18" filter="url(#bb2)"/>
<rect x="83.1" y="592.73" width="13" height="5.55" rx="2.77" fill="#06060f" opacity="1" filter="url(#bb)"/>
<ellipse cx="102.9" cy="595.5" rx="6.8" ry="3.52" fill="#3a3e70" opacity="0.13" filter="url(#bb2)"/>
<rect x="97.6" y="593.99" width="10.6" height="3.03" rx="1.52" fill="#06060f" opacity="0.73" filter="url(#bb)"/>
<ellipse cx="116.4" cy="595.5" rx="6.8" ry="3.52" fill="#3a3e70" opacity="0.1" filter="url(#bb2)"/>
<rect x="111.1" y="593.99" width="10.6" height="3.03" rx="1.52" fill="#06060f" opacity="0.58" filter="url(#bb)"/>
<ellipse cx="130.5" cy="595.5" rx="6.8" ry="3.73" fill="#3a3e70" opacity="0.15" filter="url(#bb2)"/>
<rect x="125.2" y="593.77" width="10.6" height="3.45" rx="1.73" fill="#06060f" opacity="0.89" filter="url(#bb)"/>
<ellipse cx="143.3" cy="595.5" rx="6.8" ry="3.73" fill="#3a3e70" opacity="0.15" filter="url(#bb2)"/>
<rect x="138" y="593.77" width="10.6" height="3.45" rx="1.73" fill="#06060f" opacity="0.89" filter="url(#bb)"/>
<rect x="37.6" y="588.8" width="113.9" height="13.4" fill="none" stroke="#26262e" stroke-width="1"/>
<text x="11.1" y="598.7" font-family='"Liberation Serif", serif' font-size="9.0" font-weight="bold" text-anchor="start" fill="#111" stroke="#111" stroke-width="0.22" textLength="21.6" lengthAdjust="spacingAndGlyphs">SCD1</text>
<text x="154.7" y="598.7" font-family='"Liberation Serif", serif' font-size="8.6" font-weight="bold" text-anchor="start" fill="#111" stroke="#111" stroke-width="0.22" textLength="27.8" lengthAdjust="spacingAndGlyphs">37KDa</text>
<rect x="37.6" y="610.2" width="113.9" height="15" fill="#a6acd2"/>
<rect x="38.6" y="621.2" width="111.9" height="3" fill="#c6cae6" opacity="0.7" filter="url(#bb)"/>
<rect x="38.6" y="611.2" width="111.9" height="2" fill="#9aa0c8" opacity="0.6" filter="url(#bb)"/>
<ellipse cx="47.5" cy="617.7" rx="6.8" ry="3.73" fill="#3a3e70" opacity="0.14" filter="url(#bb2)"/>
<rect x="42.2" y="615.98" width="10.6" height="3.45" rx="1.73" fill="#06060f" opacity="0.84" filter="url(#bb)"/>
<ellipse cx="60.4" cy="617.7" rx="6.8" ry="3.46" fill="#3a3e70" opacity="0.11" filter="url(#bb2)"/>
<rect x="55.1" y="616.24" width="10.6" height="2.92" rx="1.46" fill="#06060f" opacity="0.63" filter="url(#bb)"/>
<ellipse cx="75.6" cy="617.7" rx="6.8" ry="3.99" fill="#3a3e70" opacity="0.15" filter="url(#bb2)"/>
<rect x="70.3" y="615.71" width="10.6" height="3.98" rx="1.99" fill="#06060f" opacity="0.89" filter="url(#bb)"/>
<ellipse cx="89.6" cy="619.2" rx="8.5" ry="5.3" fill="#3a3e70" opacity="0.18" filter="url(#bb2)"/>
<rect x="82.6" y="615.9" width="14" height="6.6" rx="3.3" fill="#06060f" opacity="1" filter="url(#bb)"/>
<ellipse cx="102.9" cy="619.2" rx="7" ry="3.46" fill="#3a3e70" opacity="0.07" filter="url(#bb2)"/>
<rect x="97.4" y="617.74" width="11" height="2.92" rx="1.46" fill="#06060f" opacity="0.42" filter="url(#bb)"/>
<ellipse cx="116.4" cy="617.7" rx="6.8" ry="3.46" fill="#3a3e70" opacity="0.09" filter="url(#bb2)"/>
<rect x="111.1" y="616.24" width="10.6" height="2.92" rx="1.46" fill="#06060f" opacity="0.53" filter="url(#bb)"/>
<ellipse cx="130.5" cy="616.7" rx="8" ry="4.51" fill="#3a3e70" opacity="0.18" filter="url(#bb2)"/>
<rect x="124" y="614.19" width="13" height="5.03" rx="2.51" fill="#06060f" opacity="1" filter="url(#bb)"/>
<ellipse cx="143.3" cy="616.7" rx="8" ry="4.78" fill="#3a3e70" opacity="0.18" filter="url(#bb2)"/>
<rect x="136.8" y="613.93" width="13" height="5.55" rx="2.77" fill="#06060f" opacity="1" filter="url(#bb)"/>
<rect x="37.6" y="610.2" width="113.9" height="15" fill="none" stroke="#26262e" stroke-width="1"/>
<text x="4.4" y="620.9" font-family='"Liberation Serif", serif' font-size="9.0" font-weight="bold" text-anchor="start" fill="#111" stroke="#111" stroke-width="0.22" textLength="31.2" lengthAdjust="spacingAndGlyphs">PPARγ</text>
<text x="154.7" y="620.9" font-family='"Liberation Serif", serif' font-size="8.6" font-weight="bold" text-anchor="start" fill="#111" stroke="#111" stroke-width="0.22" textLength="27.8" lengthAdjust="spacingAndGlyphs">58KDa</text>
<rect x="37.6" y="635.6" width="113.9" height="15.4" fill="#a6acd2"/>
<rect x="38.6" y="647" width="111.9" height="3" fill="#c6cae6" opacity="0.7" filter="url(#bb)"/>
<rect x="38.6" y="636.6" width="111.9" height="2" fill="#9aa0c8" opacity="0.6" filter="url(#bb)"/>
<ellipse cx="47.5" cy="643.3" rx="6.8" ry="4.36" fill="#3a3e70" opacity="0.18" filter="url(#bb2)"/>
<rect x="42.2" y="640.94" width="10.6" height="4.71" rx="2.35" fill="#06060f" opacity="1" filter="url(#bb)"/>
<ellipse cx="60.4" cy="643.3" rx="6.8" ry="4.78" fill="#3a3e70" opacity="0.18" filter="url(#bb2)"/>
<rect x="55.1" y="640.52" width="10.6" height="5.55" rx="2.77" fill="#06060f" opacity="1" filter="url(#bb)"/>
<ellipse cx="75.6" cy="643.3" rx="6.8" ry="4.78" fill="#3a3e70" opacity="0.18" filter="url(#bb2)"/>
<rect x="70.3" y="640.52" width="10.6" height="5.55" rx="2.77" fill="#06060f" opacity="1" filter="url(#bb)"/>
<ellipse cx="89.6" cy="643.3" rx="6.8" ry="4.78" fill="#3a3e70" opacity="0.18" filter="url(#bb2)"/>
<rect x="84.3" y="640.52" width="10.6" height="5.55" rx="2.77" fill="#06060f" opacity="1" filter="url(#bb)"/>
<ellipse cx="102.9" cy="643.3" rx="6.8" ry="4.78" fill="#3a3e70" opacity="0.18" filter="url(#bb2)"/>
<rect x="97.6" y="640.52" width="10.6" height="5.55" rx="2.77" fill="#06060f" opacity="1" filter="url(#bb)"/>
<ellipse cx="116.4" cy="643.3" rx="6.8" ry="4.78" fill="#3a3e70" opacity="0.18" filter="url(#bb2)"/>
<rect x="111.1" y="640.52" width="10.6" height="5.55" rx="2.77" fill="#06060f" opacity="1" filter="url(#bb)"/>
<ellipse cx="130.5" cy="643.3" rx="6.8" ry="4.78" fill="#3a3e70" opacity="0.18" filter="url(#bb2)"/>
<rect x="125.2" y="640.52" width="10.6" height="5.55" rx="2.77" fill="#06060f" opacity="1" filter="url(#bb)"/>
<ellipse cx="143.3" cy="643.3" rx="6.8" ry="4.78" fill="#3a3e70" opacity="0.18" filter="url(#bb2)"/>
<rect x="138" y="640.52" width="10.6" height="5.55" rx="2.77" fill="#06060f" opacity="1" filter="url(#bb)"/>
<rect x="37.6" y="635.6" width="113.9" height="15.4" fill="none" stroke="#26262e" stroke-width="1"/>
<text x="0.2" y="646.5" font-family='"Liberation Serif", serif' font-size="9.0" font-weight="bold" text-anchor="start" fill="#111" stroke="#111" stroke-width="0.22" textLength="31.9" lengthAdjust="spacingAndGlyphs">GAPDH</text>
<text x="154.7" y="646.5" font-family='"Liberation Serif", serif' font-size="8.6" font-weight="bold" text-anchor="start" fill="#111" stroke="#111" stroke-width="0.22" textLength="27.8" lengthAdjust="spacingAndGlyphs">36KDa</text>
<rect x="42.1" y="150.1" width="61.7" height="61.5" fill="#d5e3e9"/>
<rect x="42.1" y="150.1" width="61.7" height="61.5" fill="#000" filter="url(#sp0)" opacity="1"/>
<rect x="42.1" y="150.1" width="61.7" height="61.5" fill="#000" filter="url(#sp1)" opacity="1"/>
<rect x="42.1" y="150.1" width="14.4" height="61.5" fill="#e2ebee"/>
<line x1="49.5" y1="157.1" x2="55.5" y2="157.1" stroke="#4a6070" stroke-width="0.7"/>
<line x1="51.5" y1="159.45" x2="55.5" y2="159.45" stroke="#4a6070" stroke-width="0.7"/>
<line x1="51.5" y1="161.8" x2="55.5" y2="161.8" stroke="#4a6070" stroke-width="0.7"/>
<line x1="51.5" y1="164.15" x2="55.5" y2="164.15" stroke="#4a6070" stroke-width="0.7"/>
<line x1="51.5" y1="166.5" x2="55.5" y2="166.5" stroke="#4a6070" stroke-width="0.7"/>
<line x1="49.5" y1="168.85" x2="55.5" y2="168.85" stroke="#4a6070" stroke-width="0.7"/>
<line x1="51.5" y1="171.2" x2="55.5" y2="171.2" stroke="#4a6070" stroke-width="0.7"/>
<line x1="51.5" y1="173.55" x2="55.5" y2="173.55" stroke="#4a6070" stroke-width="0.7"/>
<line x1="51.5" y1="175.9" x2="55.5" y2="175.9" stroke="#4a6070" stroke-width="0.7"/>
<line x1="51.5" y1="178.25" x2="55.5" y2="178.25" stroke="#4a6070" stroke-width="0.7"/>
<line x1="49.5" y1="180.6" x2="55.5" y2="180.6" stroke="#4a6070" stroke-width="0.7"/>
<line x1="51.5" y1="182.95" x2="55.5" y2="182.95" stroke="#4a6070" stroke-width="0.7"/>
<line x1="51.5" y1="185.3" x2="55.5" y2="185.3" stroke="#4a6070" stroke-width="0.7"/>
<line x1="51.5" y1="187.65" x2="55.5" y2="187.65" stroke="#4a6070" stroke-width="0.7"/>
<line x1="51.5" y1="190" x2="55.5" y2="190" stroke="#4a6070" stroke-width="0.7"/>
<line x1="49.5" y1="192.35" x2="55.5" y2="192.35" stroke="#4a6070" stroke-width="0.7"/>
<line x1="51.5" y1="194.7" x2="55.5" y2="194.7" stroke="#4a6070" stroke-width="0.7"/>
<line x1="51.5" y1="197.05" x2="55.5" y2="197.05" stroke="#4a6070" stroke-width="0.7"/>
<line x1="51.5" y1="199.4" x2="55.5" y2="199.4" stroke="#4a6070" stroke-width="0.7"/>
<line x1="51.5" y1="201.75" x2="55.5" y2="201.75" stroke="#4a6070" stroke-width="0.7"/>
<line x1="49.5" y1="204.1" x2="55.5" y2="204.1" stroke="#4a6070" stroke-width="0.7"/>
<line x1="51.5" y1="206.45" x2="55.5" y2="206.45" stroke="#4a6070" stroke-width="0.7"/>
<line x1="51.5" y1="208.8" x2="55.5" y2="208.8" stroke="#4a6070" stroke-width="0.7"/>
<text x="45.2" y="164" font-family='"Liberation Sans", sans-serif' font-size="5.5" font-weight="normal" text-anchor="middle" fill="#444" stroke="#444" stroke-width="0.22" transform="rotate(90 45.2 164)">0cm</text>
<text x="45.2" y="182.5" font-family='"Liberation Sans", sans-serif' font-size="6" font-weight="normal" text-anchor="middle" fill="#444" stroke="#444" stroke-width="0.22" transform="rotate(90 45.2 182.5)">1</text>
<text x="45.2" y="201" font-family='"Liberation Sans", sans-serif' font-size="6" font-weight="normal" text-anchor="middle" fill="#444" stroke="#444" stroke-width="0.22" transform="rotate(90 45.2 201)">2</text>
<g mask="url(#bm1)">
<rect x="63" y="160" width="40" height="48" fill="#000" filter="url(#sp2)" opacity="1"/>
</g>
<g filter="url(#lb)"><path d="M81.4,155.7 C84.4,155.5 91.1,156.7 94.0,158.6 C96.9,160.5 97.8,164.4 98.8,167.3 C99.8,170.2 99.4,173.0 99.7,175.9 C100.0,178.8 101.2,182.1 100.7,184.6 C100.2,187.1 98.5,189.6 97.0,191.0 C95.5,192.4 94.1,193.4 92.0,193.3 C89.9,193.2 85.9,191.2 84.3,190.4 C82.7,189.6 84.2,189.5 82.4,188.5 C80.6,187.5 76.0,186.5 73.7,184.6 C71.5,182.7 69.6,179.3 68.9,176.9 C68.2,174.5 69.0,171.9 69.5,170.0 C70.0,168.1 70.7,167.1 71.8,165.3 C72.9,163.6 74.4,161.1 76.0,159.5 C77.6,157.9 78.4,155.8 81.4,155.7Z" fill="#74180f"/><ellipse cx="85" cy="167" rx="10" ry="8" fill="#882616" opacity="0.6"/><ellipse cx="93" cy="185" rx="5" ry="5" fill="#86241a" opacity="0.5"/><path d="M74,177 C80,178 86,181 90,186" stroke="#3e0806" stroke-width="1" fill="none"/></g>
<circle cx="84" cy="163" r="0.6" fill="#f0d0d0"/>
<circle cx="88" cy="170" r="0.6" fill="#f0d0d0"/>
<circle cx="87" cy="180" r="0.6" fill="#f0d0d0"/>
<circle cx="96" cy="188" r="0.6" fill="#f0d0d0"/>
<rect x="141.9" y="150" width="61.2" height="61.6" fill="#d0dde3"/>
<rect x="141.9" y="150" width="61.2" height="61.6" fill="#000" filter="url(#sp0)" opacity="1"/>
<rect x="141.9" y="150" width="61.2" height="61.6" fill="#000" filter="url(#sp1)" opacity="1"/>
<rect x="141.9" y="150" width="9.7" height="61.6" fill="#b6bcc2"/>
<rect x="142" y="150" width="9.6" height="61.6" fill="#000" filter="url(#sp3)" opacity="1"/>
<g filter="url(#lb)"><path d="M163.1,162.5 C164.2,160.9 166.0,158.5 168.9,157.6 C171.8,156.7 177.4,156.5 180.5,157.2 C183.6,157.8 184.9,159.8 187.2,161.5 C189.4,163.2 192.2,164.9 194.0,167.3 C195.8,169.7 196.7,173.0 197.8,175.9 C198.9,178.8 200.9,182.0 200.7,184.6 C200.5,187.2 198.6,189.9 196.8,191.4 C195.0,192.9 192.2,192.2 190.1,193.3 C188.0,194.4 185.9,197.1 184.3,198.1 C182.7,199.1 181.8,199.4 180.5,199.1 C179.2,198.8 178.2,197.0 176.6,196.2 C175.0,195.4 172.7,195.3 170.8,194.2 C168.9,193.1 166.1,191.5 165.0,189.4 C163.9,187.3 164.6,184.1 164.1,181.7 C163.6,179.3 162.5,177.4 162.2,175.0 C161.9,172.6 162.0,169.4 162.2,167.3 C162.3,165.2 162.0,164.1 163.1,162.5Z" fill="#a63c40"/><ellipse cx="191" cy="181" rx="8" ry="10" fill="#b04448" stroke="#8a2a2e" stroke-width="0.6"/><ellipse cx="170" cy="186" rx="6.5" ry="8" fill="#b24648" stroke="#8a2a2e" stroke-width="0.6"/><ellipse cx="181" cy="191" rx="4" ry="7.5" fill="#ae4244" stroke="#8a2a2e" stroke-width="0.6"/><ellipse cx="177" cy="166" rx="13" ry="8.5" fill="#b44a4c" stroke="#8a2a2e" stroke-width="0.6"/><ellipse cx="176" cy="178" rx="2" ry="1.5" fill="#401010"/><path d="M172,164 l3,1 M184,170 l3,1 M188,184 l3,2 M168,188 l2,1" stroke="#f0d8d8" stroke-width="0.7"/></g>
<rect x="246.1" y="150" width="61.7" height="61.8" fill="#d6e3e9"/>
<rect x="246.1" y="150" width="61.7" height="61.8" fill="#000" filter="url(#sp0)" opacity="1"/>
<rect x="246.1" y="150" width="61.7" height="61.8" fill="#000" filter="url(#sp1)" opacity="1"/>
<rect x="246.1" y="150" width="13.3" height="61.8" fill="#e4ecef"/>
<line x1="252.4" y1="157" x2="258.4" y2="157" stroke="#4a6070" stroke-width="0.7"/>
<line x1="254.4" y1="159.35" x2="258.4" y2="159.35" stroke="#4a6070" stroke-width="0.7"/>
<line x1="254.4" y1="161.7" x2="258.4" y2="161.7" stroke="#4a6070" stroke-width="0.7"/>
<line x1="254.4" y1="164.05" x2="258.4" y2="164.05" stroke="#4a6070" stroke-width="0.7"/>
<line x1="254.4" y1="166.4" x2="258.4" y2="166.4" stroke="#4a6070" stroke-width="0.7"/>
<line x1="252.4" y1="168.75" x2="258.4" y2="168.75" stroke="#4a6070" stroke-width="0.7"/>
<line x1="254.4" y1="171.1" x2="258.4" y2="171.1" stroke="#4a6070" stroke-width="0.7"/>
<line x1="254.4" y1="173.45" x2="258.4" y2="173.45" stroke="#4a6070" stroke-width="0.7"/>
<line x1="254.4" y1="175.8" x2="258.4" y2="175.8" stroke="#4a6070" stroke-width="0.7"/>
<line x1="254.4" y1="178.15" x2="258.4" y2="178.15" stroke="#4a6070" stroke-width="0.7"/>
<line x1="252.4" y1="180.5" x2="258.4" y2="180.5" stroke="#4a6070" stroke-width="0.7"/>
<line x1="254.4" y1="182.85" x2="258.4" y2="182.85" stroke="#4a6070" stroke-width="0.7"/>
<line x1="254.4" y1="185.2" x2="258.4" y2="185.2" stroke="#4a6070" stroke-width="0.7"/>
<line x1="254.4" y1="187.55" x2="258.4" y2="187.55" stroke="#4a6070" stroke-width="0.7"/>
<line x1="254.4" y1="189.9" x2="258.4" y2="189.9" stroke="#4a6070" stroke-width="0.7"/>
<line x1="252.4" y1="192.25" x2="258.4" y2="192.25" stroke="#4a6070" stroke-width="0.7"/>
<line x1="254.4" y1="194.6" x2="258.4" y2="194.6" stroke="#4a6070" stroke-width="0.7"/>
<line x1="254.4" y1="196.95" x2="258.4" y2="196.95" stroke="#4a6070" stroke-width="0.7"/>
<line x1="254.4" y1="199.3" x2="258.4" y2="199.3" stroke="#4a6070" stroke-width="0.7"/>
<line x1="254.4" y1="201.65" x2="258.4" y2="201.65" stroke="#4a6070" stroke-width="0.7"/>
<line x1="252.4" y1="204" x2="258.4" y2="204" stroke="#4a6070" stroke-width="0.7"/>
<line x1="254.4" y1="206.35" x2="258.4" y2="206.35" stroke="#4a6070" stroke-width="0.7"/>
<line x1="254.4" y1="208.7" x2="258.4" y2="208.7" stroke="#4a6070" stroke-width="0.7"/>
<text x="249.3" y="163" font-family='"Liberation Sans", sans-serif' font-size="5.5" font-weight="normal" text-anchor="middle" fill="#444" stroke="#444" stroke-width="0.22" transform="rotate(90 249.3 163)">0cm</text>
<text x="249.3" y="181.5" font-family='"Liberation Sans", sans-serif' font-size="6" font-weight="normal" text-anchor="middle" fill="#444" stroke="#444" stroke-width="0.22" transform="rotate(90 249.3 181.5)">1</text>
<text x="249.3" y="199" font-family='"Liberation Sans", sans-serif' font-size="6" font-weight="normal" text-anchor="middle" fill="#444" stroke="#444" stroke-width="0.22" transform="rotate(90 249.3 199)">2</text>
<rect x="270" y="150" width="30" height="12" fill="#000" filter="url(#sp4)" opacity="1"/>
<g filter="url(#lb)"><path d="M267.1,165.3 C267.4,163.7 270.0,161.2 272.9,159.6 C275.8,158.0 280.6,156.5 284.5,155.7 C288.4,154.9 293.1,154.4 296.0,154.7 C298.9,155.0 300.7,156.1 301.8,157.6 C302.9,159.1 303.0,161.5 302.8,163.4 C302.6,165.3 300.3,166.9 300.8,169.2 C301.3,171.4 305.1,174.0 305.7,176.9 C306.3,179.8 306.0,183.6 304.7,186.5 C303.4,189.4 300.4,192.4 298.0,194.2 C295.6,196.0 292.8,197.1 290.2,197.1 C287.6,197.1 284.7,196.0 282.5,194.2 C280.3,192.4 278.4,189.4 276.8,186.5 C275.2,183.6 273.9,179.8 272.9,176.9 C271.9,174.0 272.0,171.1 271.0,169.2 C270.0,167.3 266.8,166.9 267.1,165.3Z" fill="#760c10"/><path d="M267,165 C272,159 284,156 292,158 C290,165 284,170 276,170 C271,170 266,168 267,165 Z" fill="#8c1a18"/><ellipse cx="292" cy="184" rx="9" ry="9" fill="#680a0e" opacity="0.6"/></g>
<ellipse cx="293" cy="159" rx="2" ry="0.6" fill="#f4d8d8"/>
<ellipse cx="296" cy="176" rx="1.2" ry="0.6" fill="#f4d8d8"/>
<ellipse cx="281" cy="181" rx="0.8" ry="0.6" fill="#f4d8d8"/>
<rect x="340.9" y="150.1" width="61.1" height="61" fill="#d3e0e6"/>
<rect x="340.9" y="150.1" width="61.1" height="61" fill="#000" filter="url(#sp0)" opacity="1"/>
<rect x="340.9" y="150.1" width="61.1" height="61" fill="#000" filter="url(#sp1)" opacity="1"/>
<rect x="340.9" y="150.1" width="11.1" height="61" fill="#b8c0c6"/>
<rect x="341" y="150" width="11" height="61" fill="#000" filter="url(#sp5)" opacity="1"/>
<rect x="385" y="155" width="17" height="40" fill="#000" filter="url(#sp6)" opacity="1"/>
<g filter="url(#lb)"><path d="M364.0,162.5 C365.3,161.1 367.7,159.2 369.8,158.6 C371.9,157.9 374.4,157.8 376.5,158.6 C378.6,159.4 380.1,162.4 382.3,163.4 C384.6,164.4 387.6,163.4 390.0,164.4 C392.4,165.4 395.2,167.1 396.8,169.2 C398.4,171.3 399.6,174.3 399.7,176.9 C399.8,179.5 399.3,182.7 397.7,184.6 C396.1,186.5 392.4,187.2 390.0,188.5 C387.6,189.8 385.2,191.8 383.3,192.3 C381.4,192.8 380.6,192.0 378.5,191.4 C376.4,190.8 372.7,190.1 370.8,188.5 C368.9,186.9 368.2,183.9 366.9,181.7 C365.6,179.4 363.8,177.4 363.0,175.0 C362.2,172.6 361.9,169.4 362.1,167.3 C362.3,165.2 362.7,163.9 364.0,162.5Z" fill="#982e2a"/><ellipse cx="371" cy="168" rx="7" ry="5" fill="#ac4440" opacity="0.6"/><path d="M364,173 C368,172 372,173 375,175" stroke="#6a1c18" stroke-width="0.8" fill="none"/><path d="M377,168 C379,165 383,167 381,171" stroke="#300808" stroke-width="1.4" fill="none"/></g>
<circle cx="385" cy="176" r="0.8" fill="#f0d8d8"/>
<circle cx="387" cy="178" r="0.8" fill="#f0d8d8"/>
<circle cx="374" cy="166" r="0.8" fill="#f0d8d8"/>
<circle cx="393" cy="182" r="0.8" fill="#f0d8d8"/>
<text x="53.9" y="146.5" font-family='"Liberation Serif", serif' font-size="9.3" font-weight="bold" text-anchor="start" fill="#111" stroke="#111" stroke-width="0.22" textLength="34.3" lengthAdjust="spacingAndGlyphs">GFP-CD</text>
<text x="152.9" y="146.5" font-family='"Liberation Serif", serif' font-size="9.3" font-weight="bold" text-anchor="start" fill="#111" stroke="#111" stroke-width="0.22" textLength="40.4" lengthAdjust="spacingAndGlyphs">GFP-HFD</text>
<text x="254.8" y="146.5" font-family='"Liberation Serif", serif' font-size="9.3" font-weight="bold" text-anchor="start" fill="#111" stroke="#111" stroke-width="0.22" textLength="36.5" lengthAdjust="spacingAndGlyphs">TIA1-CD</text>
<text x="352" y="146.5" font-family='"Liberation Serif", serif' font-size="9.3" font-weight="bold" text-anchor="start" fill="#111" stroke="#111" stroke-width="0.22" textLength="42.5" lengthAdjust="spacingAndGlyphs">TIA1-HFD</text>
<rect x="26.7" y="224.9" width="89.6" height="51.9" fill="#dcaed8"/>
<rect x="26.7" y="224.9" width="89.6" height="51.9" filter="url(#hf0)" opacity="1"/>
<rect x="26.7" y="224.9" width="89.6" height="51.9" filter="url(#hf1)" opacity="1"/>
<ellipse cx="55.2" cy="238.9" rx="2.5" ry="2.5" fill="#fdfcfe" transform="rotate(0 55.2 238.9)"/>
<ellipse cx="64.7" cy="238.2" rx="3" ry="1.5" fill="#fdfcfe" transform="rotate(0 64.7 238.2)"/>
<ellipse cx="101.7" cy="263.3" rx="2.5" ry="2" fill="#fdfcfe" transform="rotate(0 101.7 263.3)"/>
<rect x="128.2" y="224.9" width="89.8" height="51.9" fill="#ecd8ee"/>
<rect x="128.2" y="224.9" width="89.8" height="51.9" filter="url(#hf2)" opacity="1"/>
<rect x="128.2" y="224.9" width="89.8" height="51.9" filter="url(#hf3)" opacity="1"/>
<rect x="230.2" y="224.9" width="89.6" height="51.9" fill="#d6a8d6"/>
<rect x="230.2" y="224.9" width="89.6" height="51.9" filter="url(#hf4)" opacity="1"/>
<rect x="230.2" y="224.9" width="89.6" height="51.9" filter="url(#hf5)" opacity="1"/>
<rect x="230.2" y="224.9" width="89.6" height="51.9" filter="url(#hf6)" opacity="1"/>
<ellipse cx="254.9" cy="237" rx="3.5" ry="3.5" fill="#fdfcfe" transform="rotate(0 254.9 237)"/>
<ellipse cx="295" cy="263.3" rx="1.5" ry="2.2" fill="#fdfcfe" transform="rotate(30 295 263.3)"/>
<rect x="331.2" y="224.9" width="89.4" height="51.9" fill="#e4c8e6"/>
<rect x="331.2" y="224.9" width="89.4" height="51.9" filter="url(#hf7)" opacity="1"/>
<rect x="331.2" y="224.9" width="89.4" height="51.9" filter="url(#hf8)" opacity="1"/>
<ellipse cx="399.2" cy="258.9" rx="2.5" ry="2.2" fill="#fdfcfe" transform="rotate(0 399.2 258.9)"/>
<rect x="26.7" y="286" width="89.6" height="51.5" fill="#bca6d4"/>
<rect x="26.7" y="286" width="89.6" height="51.5" filter="url(#hf9)" opacity="1"/>
<rect x="26.7" y="286" width="89.6" height="51.5" filter="url(#hf10)" opacity="1"/>
<rect x="26.7" y="286" width="89.6" height="51.5" filter="url(#hf11)" opacity="1"/>
<ellipse cx="40.8" cy="315.4" rx="1.8" ry="3.5" fill="#fdfcfe" transform="rotate(0 40.8 315.4)"/>
<ellipse cx="76.6" cy="326" rx="2" ry="4" fill="#fdfcfe" transform="rotate(0 76.6 326)"/>
<rect x="128.2" y="286" width="89.8" height="51.5" fill="#e8bccb"/>
<rect x="128.2" y="286" width="89.8" height="51.5" filter="url(#hf12)" opacity="1"/>
<rect x="128.2" y="286" width="89.8" height="51.5" filter="url(#hf13)" opacity="1"/>
<rect x="128.2" y="286" width="89.8" height="51.5" filter="url(#hf14)" opacity="1"/>
<ellipse cx="202.2" cy="291.6" rx="3.5" ry="3" fill="#fdfcfe" transform="rotate(0 202.2 291.6)"/>
<rect x="230.2" y="286" width="89.6" height="51.5" fill="#baa8d6"/>
<rect x="230.2" y="286" width="89.6" height="51.5" filter="url(#hf15)" opacity="1"/>
<rect x="230.2" y="286" width="89.6" height="51.5" filter="url(#hf16)" opacity="1"/>
<rect x="230.2" y="286" width="89.6" height="51.5" filter="url(#hf17)" opacity="1"/>
<ellipse cx="296.9" cy="315.4" rx="2" ry="2" fill="#fdfcfe" transform="rotate(0 296.9 315.4)"/>
<rect x="331.2" y="286" width="89.4" height="51.5" fill="#b49cc8"/>
<rect x="331.2" y="286" width="89.4" height="51.5" filter="url(#hf18)" opacity="1"/>
<rect x="331.2" y="286" width="89.4" height="51.5" filter="url(#hf19)" opacity="1"/>
<rect x="331.2" y="286" width="89.4" height="51.5" filter="url(#hf20)" opacity="1"/>
<ellipse cx="354.7" cy="315.4" rx="1.5" ry="1.5" fill="#fdfcfe" transform="rotate(0 354.7 315.4)"/>
<ellipse cx="400.2" cy="316" rx="1.5" ry="1.3" fill="#fdfcfe" transform="rotate(0 400.2 316)"/>
<rect x="26.7" y="347" width="89.6" height="52" fill="#d8d8ea"/>
<rect x="26.7" y="347" width="89.6" height="52" filter="url(#hf21)" opacity="1"/>
<rect x="26.7" y="347" width="89.6" height="52" filter="url(#hf22)" opacity="1"/>
<rect x="26.7" y="347" width="89.6" height="52" filter="url(#hf23)" opacity="1"/>
<ellipse cx="45.2" cy="363.8" rx="3.5" ry="1.8" fill="#fdfcfe" transform="rotate(0 45.2 363.8)"/>
<ellipse cx="60.9" cy="365.7" rx="2" ry="1.8" fill="#fdfcfe" transform="rotate(0 60.9 365.7)"/>
<rect x="128.2" y="347" width="89.8" height="52" fill="#d4ccd6"/>
<rect x="128.2" y="347" width="89.8" height="52" filter="url(#hf24)" opacity="1"/>
<rect x="128.2" y="347" width="89.8" height="52" filter="url(#hf25)" opacity="1"/>
<rect x="128.2" y="347" width="89.8" height="52" filter="url(#hf26)" opacity="1"/>
<ellipse cx="188.2" cy="363.8" rx="2.5" ry="2" fill="#fdfcfe" transform="rotate(0 188.2 363.8)"/>
<rect x="230.2" y="347" width="89.6" height="52" fill="#d2d2e6"/>
<rect x="230.2" y="347" width="89.6" height="52" filter="url(#hf27)" opacity="1"/>
<rect x="230.2" y="347" width="89.6" height="52" filter="url(#hf28)" opacity="1"/>
<rect x="230.2" y="347" width="89.6" height="52" filter="url(#hf29)" opacity="1"/>
<ellipse cx="246.1" cy="363.8" rx="2" ry="1.5" fill="#fdfcfe" transform="rotate(0 246.1 363.8)"/>
<ellipse cx="263.7" cy="365.7" rx="3" ry="2" fill="#fdfcfe" transform="rotate(0 263.7 365.7)"/>
<ellipse cx="307.6" cy="363.8" rx="2" ry="2" fill="#fdfcfe" transform="rotate(0 307.6 363.8)"/>
<rect x="331.2" y="347" width="89.4" height="52" fill="#dadaec"/>
<rect x="331.2" y="347" width="89.4" height="52" filter="url(#hf30)" opacity="1"/>
<rect x="331.2" y="347" width="89.4" height="52" filter="url(#hf31)" opacity="1"/>
<rect x="331.2" y="347" width="89.4" height="52" filter="url(#hf32)" opacity="1"/>
<ellipse cx="381.2" cy="387" rx="1.5" ry="1.5" fill="#fdfcfe" transform="rotate(0 381.2 387)"/>
<rect x="26.7" y="408.5" width="89.6" height="51.7" fill="#e0e0f0"/>
<rect x="26.7" y="408.5" width="89.6" height="51.7" filter="url(#hf33)" opacity="1"/>
<rect x="26.7" y="408.5" width="89.6" height="51.7" filter="url(#hf34)" opacity="1"/>
<rect x="26.7" y="408.5" width="89.6" height="51.7" filter="url(#hf35)" opacity="1"/>
<ellipse cx="55.2" cy="436" rx="3" ry="2.2" fill="#fdfcfe" transform="rotate(0 55.2 436)"/>
<ellipse cx="81.7" cy="433.5" rx="4" ry="3.5" fill="#fdfcfe" transform="rotate(-20 81.7 433.5)"/>
<rect x="128.2" y="408.5" width="89.8" height="51.7" fill="#e0deee"/>
<rect x="128.2" y="408.5" width="89.8" height="51.7" filter="url(#hf36)" opacity="1"/>
<rect x="128.2" y="408.5" width="89.8" height="51.7" filter="url(#hf37)" opacity="1"/>
<rect x="128.2" y="408.5" width="89.8" height="51.7" filter="url(#hf38)" opacity="1"/>
<g opacity="0.75"><path d="M158,419 C163,423 167,426 170,427 M180,426 C184,424 188,423 192,421 M172,432 C171,438 168,442 166,446 M176,433 C178,440 178,446 176,452" stroke="#b88a66" stroke-width="0.9" fill="none"/></g>
<path d="M169,425.5 L181,425.5 L176,431 L175,437 L173,437 L172.5,431 Z" fill="#fdfcfe"/><path d="M176,445 L178,456" stroke="#f6f4fa" stroke-width="1.2"/>
<ellipse cx="174" cy="441" rx="2" ry="3" fill="#7c80b8" opacity="0.5"/>
<rect x="230.2" y="408.5" width="89.6" height="51.7" fill="#dcdcee"/>
<rect x="230.2" y="408.5" width="89.6" height="51.7" filter="url(#hf39)" opacity="1"/>
<rect x="230.2" y="408.5" width="89.6" height="51.7" filter="url(#hf40)" opacity="1"/>
<rect x="230.2" y="408.5" width="89.6" height="51.7" filter="url(#hf41)" opacity="1"/>
<ellipse cx="273.1" cy="431.6" rx="2.2" ry="1.8" fill="#fdfcfe" transform="rotate(0 273.1 431.6)"/>
<rect x="331.2" y="408.5" width="89.4" height="51.7" fill="#e6e6f2"/>
<rect x="331.2" y="408.5" width="89.4" height="51.7" filter="url(#hf42)" opacity="1"/>
<rect x="331.2" y="408.5" width="89.4" height="51.7" filter="url(#hf43)" opacity="1"/>
<rect x="331.2" y="408.5" width="89.4" height="51.7" filter="url(#hf44)" opacity="1"/>
<ellipse cx="342.2" cy="436" rx="1.5" ry="2" fill="#fdfcfe" transform="rotate(0 342.2 436)"/>
<ellipse cx="388.8" cy="446.8" rx="3" ry="2.5" fill="#fdfcfe" transform="rotate(0 388.8 446.8)"/>
<ellipse cx="404" cy="444.6" rx="4" ry="2" fill="#fdfcfe" transform="rotate(0 404 444.6)"/>
<rect x="395" y="453.9" width="19" height="1.8" fill="#1a1a1a"/>
<text x="19.4" y="258.4" font-family='"Liberation Serif", serif' font-size="9.2" font-weight="bold" text-anchor="start" fill="#111" stroke="#111" stroke-width="0.22" transform="rotate(-90 19.4 258.4)" textLength="19.9" lengthAdjust="spacingAndGlyphs">H&amp;E</text>
<text x="19.4" y="318.8" font-family='"Liberation Serif", serif' font-size="9.2" font-weight="bold" text-anchor="start" fill="#111" stroke="#111" stroke-width="0.22" transform="rotate(-90 19.4 318.8)" textLength="19.5" lengthAdjust="spacingAndGlyphs">ORO</text>
<text x="19.4" y="381.3" font-family='"Liberation Serif", serif' font-size="9.2" font-weight="bold" text-anchor="start" fill="#111" stroke="#111" stroke-width="0.22" transform="rotate(-90 19.4 381.3)" textLength="21.1" lengthAdjust="spacingAndGlyphs">F4/80</text>
<text x="19.4" y="444.7" font-family='"Liberation Serif", serif' font-size="9.2" font-weight="bold" text-anchor="start" fill="#111" stroke="#111" stroke-width="0.22" transform="rotate(-90 19.4 444.7)" textLength="25.4" lengthAdjust="spacingAndGlyphs">αSMA</text>
</svg></body></html>
